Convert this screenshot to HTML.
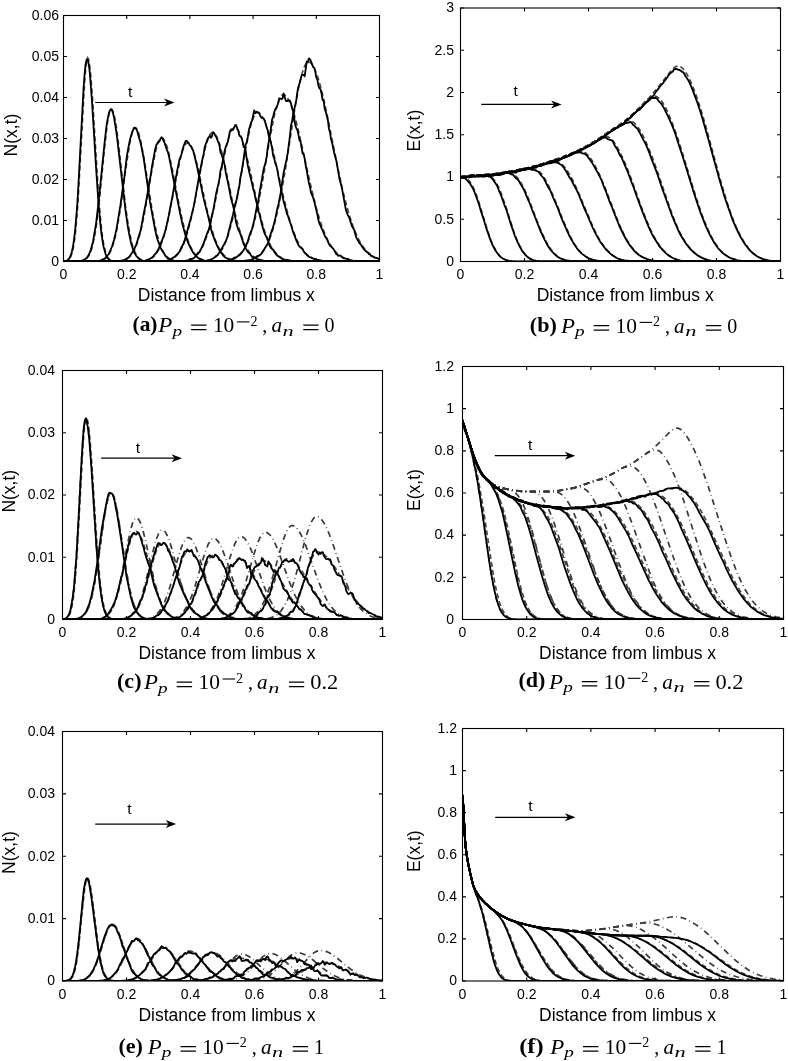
<!DOCTYPE html><html><head><meta charset="utf-8"><style>html,body{margin:0;padding:0;background:#fff;}body{width:788px;height:1061px;overflow:hidden;position:relative}svg{position:absolute;left:0;top:0;filter:grayscale(1)}.s{font-family:"Liberation Sans",sans-serif}.r{font-family:"Liberation Serif",serif}</style></head><body>
<svg width="788" height="1061" viewBox="0 0 788 1061">
<rect width="788" height="1061" fill="#fff"/>
<clipPath id="cpa"><rect x="63.5" y="15.5" width="316" height="246"/></clipPath><g clip-path="url(#cpa)">
<polyline points="63.5,261.4 65.6,261.2 67.7,260.4 68.8,259.6 69.8,258.4 70.9,256.5 71.9,253.6 73,249.5 74,243.8 75.1,236.1 77.2,213.5 78.2,198.3 84.6,82.8 85.6,69.4 86.7,60.9 87.7,57.9 88.8,60.1 89.8,66.4 90.9,76.6 93,105.6 98.3,191.6 100.4,217.8 101.4,228.1 102.5,236.5 103.5,243.1 104.6,248.3 105.6,252.2 106.7,255.1 107.7,257.2 108.8,258.7 109.8,259.7 110.9,260.4 113,261.1 115.1,261.4 119.3,261.5 379.5,261.5" fill="none" stroke="#444" stroke-width="1.6" stroke-dasharray="5 3"/>
<polyline points="63.5,261.5 79.3,261.3 82.5,260.8 84.6,260 86.7,258.5 88.8,255.8 90.9,251.2 91.9,248.1 94,239.4 95.1,233.7 97.2,219.5 99.3,201.5 104.6,147.9 106.7,128.9 107.7,121.2 108.8,115.3 109.8,111.2 110.9,109.2 112,109.3 113,111.2 114.1,114.6 115.1,119.6 116.2,125.9 118.3,141.7 125.6,206.8 127.8,221.9 129.9,234.1 132,243.4 133,247 135.1,252.5 136.2,254.5 138.3,257.5 139.3,258.5 141.4,259.9 143.6,260.7 145.7,261.1 148.8,261.4 154.1,261.5 379.5,261.5" fill="none" stroke="#444" stroke-width="1.6" stroke-dasharray="5 3"/>
<polyline points="63.5,261.5 91.9,261.5 96.2,261.3 99.3,261 102.5,260.1 104.6,259.1 105.6,258.3 107.7,256.1 109.8,252.9 112,248.1 114.1,241.5 116.2,232.8 117.2,227.7 120.4,208.8 126.7,162.8 129.9,142.6 132,133.2 133,130.1 134.1,128.2 135.1,127.6 136.2,128.1 137.2,129.5 138.3,131.9 139.3,135.2 141.4,144.1 144.6,162 152,209.1 155.1,225.8 157.2,234.9 159.4,242.2 160.4,245.3 162.5,250.3 163.6,252.2 165.7,255.4 167.8,257.5 169.9,259 172,260 175.2,260.8 179.4,261.3 184.6,261.5 379.5,261.5" fill="none" stroke="#444" stroke-width="1.6" stroke-dasharray="5 3"/>
<polyline points="63.5,261.5 108.8,261.5 118.3,261.2 122.5,260.6 125.6,259.5 128.8,257.6 130.9,255.5 133,252.5 134.1,250.6 136.2,245.9 138.3,239.9 140.4,232.3 142.5,223.2 144.6,212.6 152,169.8 155.1,153.5 157.2,145.3 158.3,142.2 159.4,139.9 160.4,138.5 161.5,137.9 162.5,138.1 163.6,139.1 164.6,140.7 166.7,145.8 168.8,153.2 172,167.5 178.3,200.7 181.5,216.2 184.6,229.4 186.7,236.7 189.9,245.4 193.1,251.6 194.1,253.1 196.2,255.7 198.3,257.5 200.4,258.8 203.6,260.1 206.8,260.8 211,261.3 217.3,261.5 379.5,261.5" fill="none" stroke="#444" stroke-width="1.6" stroke-dasharray="5 3"/>
<polyline points="63.5,261.5 128.8,261.5 140.4,261.2 144.6,260.8 148.8,259.6 152,257.9 154.1,256.1 156.2,253.6 157.2,252.1 159.4,248.3 162.5,240.5 164.6,233.7 166.7,225.7 168.8,216.5 177.3,173.2 180.4,158.6 182.5,151 184.6,145.7 185.7,144.1 186.7,143.1 187.8,142.8 188.8,143.2 189.9,144.2 191,145.7 193.1,150.4 195.2,156.9 198.3,169.5 205.7,204.1 208.9,217.9 212,229.9 214.1,236.6 217.3,244.7 220.4,250.7 223.6,254.8 225.7,256.8 227.8,258.2 231,259.7 234.1,260.5 238.4,261.1 244.7,261.4 379.5,261.5" fill="none" stroke="#444" stroke-width="1.6" stroke-dasharray="5 3"/>
<polyline points="63.5,261.5 147.8,261.5 159.4,261.3 164.6,261 168.8,260.2 172,259 175.2,256.9 178.3,253.7 181.5,248.7 184.6,241.5 186.7,235.3 188.8,227.9 192,214.6 195.2,199.1 202.5,160.3 205.7,146.5 207.8,139.5 208.9,136.8 209.9,134.8 211,133.4 212,132.6 213.1,132.6 214.1,133.1 215.2,134.2 216.2,135.8 217.3,137.9 219.4,143.5 221.5,150.9 224.7,164.3 234.1,209.2 237.3,222.2 240.5,233.1 243.6,241.7 246.8,248.3 249.9,253 252,255.3 254.2,257.1 257.3,258.9 260.5,260 264.7,260.9 271,261.3 284.7,261.5 379.5,261.5" fill="none" stroke="#444" stroke-width="1.6" stroke-dasharray="5 3"/>
<polyline points="63.5,261.5 178.3,261.4 184.6,260.9 188.8,260.1 192,258.9 195.2,256.9 198.3,253.8 201.5,249.1 204.6,242.4 207.8,233.3 211,221.6 214.1,207.6 223.6,158.6 226.8,144.4 228.9,136.9 231,131.4 232,129.5 233.1,128.3 234.1,127.7 235.2,127.7 236.2,128.2 237.3,129.1 238.4,130.6 239.4,132.5 241.5,137.5 243.6,144.1 247.8,160.7 258.4,208.1 261.5,220.4 264.7,230.9 267.8,239.4 271,246.1 274.2,251.1 277.3,254.7 280.5,257.2 282.6,258.4 284.7,259.3 288.9,260.4 295.2,261.2 308.9,261.5 379.5,261.5" fill="none" stroke="#444" stroke-width="1.6" stroke-dasharray="5 3"/>
<polyline points="63.5,261.5 198.3,261.4 204.6,261 208.9,260.2 211,259.6 213.1,258.7 216.2,256.7 218.3,254.7 220.4,252.1 223.6,246.8 226.8,239.4 229.9,229.4 233.1,216.9 236.2,201.8 245.7,149.2 247.8,138.4 249.9,129 252,121.4 254.2,115.9 255.2,114.1 256.3,112.9 257.3,112.4 258.4,112.4 259.4,112.9 260.5,113.8 261.5,115.1 263.6,118.9 266.8,127.2 268.9,134.2 272.1,146.5 283.6,197.5 288.9,217.6 292.1,227.6 294.2,233.4 296.3,238.5 299.4,244.7 301.6,248.1 303.7,250.9 306.8,254.3 308.9,255.9 311,257.3 313.1,258.3 316.3,259.5 321.6,260.6 326.8,261.1 335.3,261.4 379.5,261.5" fill="none" stroke="#444" stroke-width="1.6" stroke-dasharray="5 3"/>
<polyline points="63.5,261.5 204.6,261.5 219.4,261.4 225.7,260.9 231,260 233.1,259.3 235.2,258.4 238.4,256.3 240.5,254.4 242.6,251.8 245.7,246.7 247.8,242.2 249.9,236.7 253.1,226.4 256.3,213.7 259.4,198.4 262.6,181.1 270,137.9 274.2,116.3 276.3,107.7 277.3,104.1 279.4,98.5 280.5,96.6 281.5,95.3 282.6,94.7 283.6,94.7 284.7,95 285.8,95.8 286.8,96.9 288.9,100.3 291,105 294.2,114.4 296.3,121.9 299.4,134.7 311,186.8 316.3,207.9 319.5,218.8 322.6,228.2 325.8,236 328.9,242.4 332.1,247.5 334.2,250.2 336.3,252.5 338.4,254.4 340.5,255.9 342.6,257.2 345.8,258.6 351.1,260.1 357.4,260.9 365.8,261.4 379.5,261.5" fill="none" stroke="#444" stroke-width="1.6" stroke-dasharray="5 3"/>
<polyline points="63.5,261.5 221.5,261.5 238.4,261.3 245.7,260.8 251,259.9 255.2,258.3 257.3,257.1 259.4,255.4 261.5,253.4 263.6,250.7 265.7,247.4 267.8,243.3 270,238.3 272.1,232.3 275.2,221.3 278.4,207.7 282.6,185.7 285.8,166.8 294.2,112.7 298.4,88.9 301.6,75 303.7,68.3 304.7,65.8 305.8,64 306.8,62.7 307.9,62.1 308.9,62.1 310,62.5 311,63.3 312.1,64.5 314.2,67.9 315.2,70.2 317.4,75.7 320.5,86.2 322.6,94.5 325.8,108.4 337.4,165.6 342.6,189.7 347.9,210.3 350,217.3 353.2,226.7 355.3,232 358.4,238.9 361.6,244.5 364.8,248.9 367.9,252.3 371.1,255 375.3,257.4 379.5,259" fill="none" stroke="#444" stroke-width="1.6" stroke-dasharray="5 3"/>
<polyline points="63.5,261.3 65.6,261 66.7,260.7 67.7,260 68.8,259 69.8,257.4 70.9,254.9 71.9,251.4 73,246.4 74,239.6 75.1,230.6 77.2,205.7 78.2,188.8 83.5,89.1 84.6,73.8 85.6,64.2 86.7,59.4 87.7,59.7 88.8,64.5 89.8,72.9 91.9,100 96.2,169.8 98.3,200.6 100.4,224.4 101.4,233.5 102.5,240.7 103.5,246.5 105.6,254.1 106.7,256.4 107.7,258.2 108.8,259.3 109.8,260.1 112,261 113,261.2 119.3,261.5 379.5,261.5" fill="none" stroke="#000" stroke-width="1.8" stroke-linejoin="round"/>
<polyline points="63.5,261.5 78.2,261.3 81.4,260.9 83.5,260.2 85.6,258.8 87.7,256.5 88.8,254.8 90.9,249.6 93,241.7 96.2,222.6 99.3,195.1 104.6,142.5 106.7,124.2 108.8,113.3 109.8,110.6 110.9,109.3 112,110.4 113,113 114.1,117.9 116.2,131.2 117.2,138.7 125.6,211.2 127.8,226.3 128.8,232.2 130.9,242.2 132,246.2 133,249.2 135.1,253.9 136.2,255.7 138.3,258.3 139.3,259.1 142.5,260.6 143.6,260.8 146.7,261.3 150.9,261.5 379.5,261.5" fill="none" stroke="#000" stroke-width="1.8" stroke-linejoin="round"/>
<polyline points="63.5,261.5 90.9,261.5 96.2,261.2 99.3,260.9 101.4,260.1 104.6,258.5 105.6,257.6 108.8,254 112,246.5 113,243.3 114.1,239.7 116.2,230.4 117.2,224.9 120.4,205.4 124.6,175.1 126.7,157.4 127.8,150.6 129.9,139.8 132,132.7 134.1,127.6 135.1,128 136.2,128.8 137.2,131 138.3,135.3 140.4,142 141.4,146.8 143.6,157.8 149.9,201.4 155.1,229.9 157.2,238.7 160.4,247.4 161.5,249.5 165.7,256.2 166.7,257.3 168.8,258.9 170.9,259.9 174.1,260.8 178.3,261.3 182.5,261.4 379.5,261.5" fill="none" stroke="#000" stroke-width="1.8" stroke-linejoin="round"/>
<polyline points="63.5,261.5 109.8,261.5 116.2,261.3 120.4,260.8 122.5,260.5 124.6,259.8 127.8,258.1 129.9,256 133,251.3 135.1,247.2 136.2,244.8 140.4,230.9 141.4,226.6 143.6,214.1 145.7,204 150.9,174 152,166.5 155.1,149.6 156.2,145.2 158.3,141.7 159.4,141.5 160.4,138.9 161.5,137.3 162.5,138.1 163.6,141.1 164.6,142.9 166.7,149.3 167.8,151.8 168.8,155.4 180.4,214.8 182.5,224.4 185.7,236.1 187.8,242 191,248.8 193.1,252.6 196.2,256.2 198.3,258.1 199.4,258.8 200.4,259.4 204.6,260.6 212,261.4 379.5,261.5" fill="none" stroke="#000" stroke-width="1.8" stroke-linejoin="round"/>
<polyline points="63.5,261.5 138.3,261.4 141.4,260.9 145.7,260.7 148.8,259.4 149.9,258.7 152,257.6 153,256.7 154.1,255.1 155.1,254.2 156.2,252.9 158.3,249.6 163.6,236.4 165.7,229.6 168.8,215.4 169.9,209.1 172,198.8 175.2,180.3 176.2,176.3 177.3,170.1 179.4,159.8 181.5,154.2 182.5,149.6 183.6,146.2 185.7,140.9 186.7,140.9 188.8,143.4 189.9,145.3 191,146.3 193.1,150.6 194.1,154 197.3,167.7 203.6,198.4 208.9,219.3 211,229 212,232.6 215.2,241.2 217.3,246.1 219.4,250.3 220.4,251.9 223.6,255.9 224.7,257 225.7,257.7 229.9,259.6 231,259.5 235.2,260.8 237.3,261.1 245.7,261.4 379.5,261.5" fill="none" stroke="#000" stroke-width="1.8" stroke-linejoin="round"/>
<polyline points="63.5,261.5 158.3,261.4 166.7,260.6 168.8,260.1 173,257.9 174.1,256.9 175.2,256.4 179.4,251.9 181.5,247.2 183.6,243.5 184.6,240.4 191,217.6 194.1,204.9 199.4,174.3 202.5,158.8 203.6,154.5 204.6,147.5 205.7,144.1 207.8,138.6 209.9,135.7 211,137.7 212,136.1 213.1,132.2 214.1,132.9 215.2,135.5 216.2,136.9 219.4,145 220.4,152.1 221.5,154.4 222.6,157.7 224.7,165.3 225.7,172.2 228.9,187.1 231,198.5 233.1,205.9 234.1,210.6 236.2,223.1 238.4,230.1 239.4,231.6 240.5,234.3 243.6,243.9 245.7,248.1 247.8,251.9 248.9,252.9 249.9,253.5 252,256.9 254.2,257.4 255.2,258.2 257.3,259.1 263.6,260.9 265.7,261.2 270,261.4 379.5,261.5" fill="none" stroke="#000" stroke-width="1.8" stroke-linejoin="round"/>
<polyline points="63.5,261.5 170.9,261.5 181.5,261.3 186.7,260.8 189.9,259.7 191,258.9 193.1,258.7 194.1,257.9 195.2,257 197.3,253.9 198.3,252.7 199.4,252.1 200.4,250.3 203.6,243.4 206.8,234.2 208.9,229.3 209.9,225.3 212,214.7 213.1,210.7 214.1,205.6 216.2,193.2 218.3,184.4 219.4,179.1 220.4,171 221.5,167.6 224.7,150.7 225.7,147 227.8,142.2 229.9,131.5 231,129.5 233.1,129.8 235.2,125 236.2,125.2 237.3,128.6 238.4,131.2 239.4,135.7 240.5,136.4 241.5,137.8 242.6,141.6 243.6,147 244.7,147.1 245.7,151.8 247.8,165.6 249.9,174.9 252,183.2 253.1,188.6 254.2,191.9 255.2,197.2 257.3,205.6 258.4,211.3 259.4,214 261.5,222.9 263.6,230.5 264.7,233.7 266.8,237.9 267.8,240.5 270,246.6 271,248 273.1,249.7 275.2,253.2 277.3,255.6 278.4,256.4 279.4,256.8 281.5,258.5 283.6,259.5 285.8,260 286.8,259.9 288.9,260.4 295.2,261.3 306.8,261.5 379.5,261.5" fill="none" stroke="#000" stroke-width="1.8" stroke-linejoin="round"/>
<polyline points="63.5,261.5 200.4,261.4 202.5,261.1 204.6,261.1 211,259.5 214.1,257.9 216.2,255.8 217.3,255.2 219.4,252.5 220.4,250 221.5,249 224.7,243.3 226.8,238.6 227.8,235.5 228.9,230.5 233.1,214.2 235.2,203.9 236.2,201.4 237.3,196.6 238.4,190.4 239.4,185.9 240.5,176.7 241.5,172.6 243.6,159.1 244.7,150.6 245.7,144.7 246.8,141.8 247.8,137 248.9,129.8 249.9,126.6 251,122.4 252,120.8 254.2,110.4 255.2,113.2 256.3,111.7 257.3,112 258.4,112.9 259.4,113.6 260.5,116.4 261.5,117.8 263.6,118.5 264.7,120.3 266.8,128 267.8,130.4 268.9,137 270,139.4 271,142.9 272.1,148.1 273.1,155.6 274.2,158.4 275.2,162.9 276.3,165.6 277.3,169.6 278.4,176.2 280.5,186.9 283.6,201.4 285.8,208.9 286.8,213.5 287.9,215.7 290,222.2 291,224.8 293.1,232.2 294.2,234.5 296.3,240.4 297.3,242.7 298.4,244.9 299.4,246.5 302.6,249 303.7,251.3 304.7,253 305.8,253.7 307.9,256.1 310,257.4 311,257.3 312.1,258.2 313.1,258.7 316.3,259.6 318.4,259.8 319.5,260.3 322.6,260.9 323.7,260.8 324.7,261.1 326.8,261 328.9,261.3 335.3,261.5 379.5,261.5" fill="none" stroke="#000" stroke-width="1.8" stroke-linejoin="round"/>
<polyline points="63.5,261.5 216.2,261.4 227.8,260.8 228.9,260.3 231,259.7 233.1,258.6 234.1,257.8 235.2,257.3 236.2,257.5 239.4,254.8 242.6,251.5 245.7,246.8 246.8,243.6 247.8,241.3 249.9,234.1 251,231.3 252,229.3 254.2,220.4 257.3,204.1 258.4,200.7 259.4,193.3 263.6,169.3 265.7,162 266.8,155.8 267.8,147.2 270,134.6 272.1,119.6 273.1,116.5 274.2,112.4 275.2,109.4 276.3,108.1 277.3,105.7 278.4,102.5 279.4,98.3 280.5,98.6 281.5,99.3 282.6,98.4 283.6,93.5 285.8,100.8 286.8,101.2 287.9,100.3 290,100.6 291,103.5 292.1,108 293.1,111.5 295.2,124.7 296.3,128.1 297.3,129.9 298.4,134.4 299.4,140.1 300.5,141.4 302.6,153.7 303.7,154.4 304.7,158.8 305.8,166.3 306.8,171 308.9,183.1 310,187.2 311,192.6 313.1,197.5 314.2,201.4 317.4,214.5 318.4,220.1 319.5,223.8 320.5,225.6 321.6,228.4 322.6,230.3 324.7,235.8 325.8,237.7 326.8,239 328.9,243.9 330,245.7 333.2,248.6 336.3,254 337.4,254.7 338.4,255.8 339.5,255.5 340.5,255.7 342.6,257.6 343.7,258.3 344.7,258.4 347.9,259.1 350,260.3 354.2,261 356.3,260.8 358.4,261.2 360.5,261.1 362.6,261.5 365.8,261.3 379.5,261.5" fill="none" stroke="#000" stroke-width="1.8" stroke-linejoin="round"/>
<polyline points="63.5,261.5 239.4,261.4 243.6,261 247.8,260.3 249.9,260.6 254.2,258.4 257.3,256 258.4,255.7 260.5,254.6 261.5,253.6 262.6,251.6 263.6,250.3 266.8,245 267.8,243.8 268.9,240.5 270,236 273.1,227.1 275.2,218.9 277.3,208.6 278.4,204.7 280.5,193.9 283.6,172.8 286.8,158.2 287.9,151.8 290,135.3 291,125.4 292.1,121.1 293.1,114.4 296.3,100.1 297.3,92.3 298.4,86.8 299.4,83.9 301.6,75.4 303.7,74.9 304.7,76.2 306.8,61.4 307.9,62.4 308.9,58.3 310,59.5 311,61.3 313.1,67 314.2,67.8 315.2,71.2 316.3,77.5 317.4,79.9 318.4,85.6 319.5,88.4 320.5,89.2 321.6,93.9 322.6,100 323.7,100.8 324.7,108.9 325.8,111.8 327.9,120.2 328.9,128.7 330,132.3 331,139.1 332.1,142.7 334.2,153 336.3,160.4 339.5,178.9 341.6,186.7 342.6,191.8 345.8,209.4 347.9,215.5 349,216.9 352.1,226.5 354.2,229.9 355.3,234.2 356.3,237.6 359.5,243.4 360.5,243.9 361.6,245.9 363.7,249 366.9,252.2 367.9,252.6 369,254.1 370,254.5 371.1,255.8 372.1,256 373.2,256.9 374.2,257.5 375.3,257.9 377.4,258.1 379.5,259.5" fill="none" stroke="#000" stroke-width="1.8" stroke-linejoin="round"/>
</g>
<rect x="63.5" y="15.5" width="316" height="246" fill="none" stroke="#000" stroke-width="1.1"/>
<path d="M63.5 261.5v-3.5M63.5 15.5v3.5M126.7 261.5v-3.5M126.7 15.5v3.5M189.9 261.5v-3.5M189.9 15.5v3.5M253.1 261.5v-3.5M253.1 15.5v3.5M316.3 261.5v-3.5M316.3 15.5v3.5M379.5 261.5v-3.5M379.5 15.5v3.5M63.5 261.5h3.5M379.5 261.5h-3.5M63.5 220.5h3.5M379.5 220.5h-3.5M63.5 179.5h3.5M379.5 179.5h-3.5M63.5 138.5h3.5M379.5 138.5h-3.5M63.5 97.5h3.5M379.5 97.5h-3.5M63.5 56.5h3.5M379.5 56.5h-3.5M63.5 15.5h3.5M379.5 15.5h-3.5" stroke="#000" stroke-width="1.1" fill="none"/>
<text class="s" x="59" y="265.8" font-size="14" text-anchor="end">0</text>
<text class="s" x="59" y="224.8" font-size="14" text-anchor="end">0.01</text>
<text class="s" x="59" y="183.8" font-size="14" text-anchor="end">0.02</text>
<text class="s" x="59" y="142.8" font-size="14" text-anchor="end">0.03</text>
<text class="s" x="59" y="101.8" font-size="14" text-anchor="end">0.04</text>
<text class="s" x="59" y="60.8" font-size="14" text-anchor="end">0.05</text>
<text class="s" x="59" y="19.8" font-size="14" text-anchor="end">0.06</text>
<text class="s" x="63.5" y="279.1" font-size="14" text-anchor="middle">0</text>
<text class="s" x="126.7" y="279.1" font-size="14" text-anchor="middle">0.2</text>
<text class="s" x="189.9" y="279.1" font-size="14" text-anchor="middle">0.4</text>
<text class="s" x="253.1" y="279.1" font-size="14" text-anchor="middle">0.6</text>
<text class="s" x="316.3" y="279.1" font-size="14" text-anchor="middle">0.8</text>
<text class="s" x="379.5" y="279.1" font-size="14" text-anchor="middle">1</text>
<text class="s" x="137.8" y="300.7" font-size="17.5">Distance from limbus x</text>
<text class="s" font-size="17.5" text-anchor="middle" transform="translate(17 135) rotate(-90)">N(x,t)</text>
<path d="M95.2 102.5H170.5" stroke="#000" stroke-width="1.2"/>
<path d="M174.5 102.5L164 98.5L167 102.5L164 106.5Z" fill="#000"/>
<text class="s" x="130.2" y="96.5" font-size="15.5" text-anchor="middle">t</text>
<text class="r" x="132.5" y="331" font-size="22" font-weight="bold" textLength="25" lengthAdjust="spacingAndGlyphs">(a)</text>
<text class="r" x="158.3" y="332.3" font-size="20" font-style="italic" textLength="14" lengthAdjust="spacingAndGlyphs">P</text>
<text class="r" x="172.4" y="335.9" font-size="15.5" font-style="italic" textLength="9.6" lengthAdjust="spacingAndGlyphs">p</text>
<path d="M191.1 325.1H206.5M191.1 329.5H206.5" stroke="#000" stroke-width="1.25"/>
<text class="r" x="212.9" y="332.3" font-size="20" textLength="21.4" lengthAdjust="spacingAndGlyphs">10</text>
<path d="M237 321.9H249.5" stroke="#000" stroke-width="1.1"/>
<text class="r" x="250.4" y="325.6" font-size="14">2</text>
<text class="r" x="262.3" y="332.3" font-size="20">,</text>
<text class="r" x="271.5" y="332.3" font-size="20" font-style="italic" textLength="10.6" lengthAdjust="spacingAndGlyphs">a</text>
<text class="r" x="282.6" y="335.8" font-size="15.5" font-style="italic" textLength="11.2" lengthAdjust="spacingAndGlyphs">n</text>
<path d="M303.3 325.1H318.6M303.3 329.5H318.6" stroke="#000" stroke-width="1.25"/>
<text class="r" x="324.6" y="332.3" font-size="20">0</text>
<clipPath id="cpb"><rect x="460.5" y="8" width="320" height="253.5"/></clipPath><g clip-path="url(#cpb)">
<polyline points="460.5,176.9 463.7,177.3 465.8,178 466.9,178.7 469,180.6 470.1,181.9 472.2,185.3 474.4,189.8 477.6,198.2 488.2,232.5 491.4,241.3 493.6,246.2 496.8,252 500,256 503.2,258.6 505.3,259.6 507.4,260.4 512.8,261.2 519.2,261.5 780.5,261.5" fill="none" stroke="#444" stroke-width="1.6" stroke-dasharray="5 3"/>
<polyline points="460.5,176.7 468,175.8 473.3,175.3 480.8,174.9 485,175 487.2,175.3 489.3,176 491.4,177.2 493.6,179.2 495.7,182 496.8,183.7 498.9,187.9 501,192.9 505.3,204.9 513.8,231.3 517,239.8 520.2,246.8 523.4,252.1 526.6,255.9 529.8,258.4 532,259.5 534.1,260.2 536.2,260.7 539.4,261.2 546.9,261.5 780.5,261.5" fill="none" stroke="#444" stroke-width="1.6" stroke-dasharray="5 3"/>
<polyline points="460.5,176.7 471.2,175.5 491.4,174.2 506.4,172.4 508.5,172.4 510.6,172.8 512.8,173.6 514.9,175.1 517,177.2 519.2,179.9 521.3,183.3 524.5,189.4 528.8,199.2 538.4,224.2 541.6,232 544.8,239 548,245 551.2,249.8 553.3,252.5 555.4,254.6 557.6,256.4 559.7,257.8 561.8,258.8 565,260 568.2,260.7 571.4,261.1 578.9,261.5 780.5,261.5" fill="none" stroke="#444" stroke-width="1.6" stroke-dasharray="5 3"/>
<polyline points="460.5,176.7 470.1,175.6 488.2,174.5 495.7,173.7 511.7,171.1 528.8,167.9 530.9,167.8 533,168 535.2,168.6 536.2,169.1 538.4,170.6 541.6,174 544.8,178.6 548,184.4 553.3,195.9 564,222.2 567.2,229.7 571.4,238.6 574.6,244.2 576.8,247.4 578.9,250.2 581,252.6 583.2,254.6 585.3,256.2 588.5,258 590.6,259 593.8,260 597,260.7 601.3,261.1 615.2,261.5 780.5,261.5" fill="none" stroke="#444" stroke-width="1.6" stroke-dasharray="5 3"/>
<polyline points="460.5,176.7 471.2,175.5 491.4,174.2 501,172.9 514.9,170.5 526.6,168 535.2,165.9 551.2,161.4 554.4,161 556.5,161.3 558.6,162 560.8,163.3 564,166.3 567.2,170.5 571.4,177.6 574.6,183.9 577.8,190.9 589.6,219 593.8,228.7 598.1,237.2 601.3,242.6 604.5,247.1 608.8,251.9 613,255.4 616.2,257.5 618.4,258.6 621.6,259.7 625.8,260.6 631.2,261.2 637.6,261.5 780.5,261.5" fill="none" stroke="#444" stroke-width="1.6" stroke-dasharray="5 3"/>
<polyline points="460.5,176.7 470.1,175.6 487.2,174.5 494.6,173.8 505.3,172.2 520.2,169.4 533,166.5 545.8,162.8 559.7,158.1 576.8,151.5 580,151 582.1,151.2 584.2,152 585.3,152.7 587.4,154.5 589.6,156.9 592.8,161.6 597,169.3 600.2,176.1 604.5,186.3 619.4,224.6 623.7,233.9 626.9,239.9 630.1,245 634.4,250.4 636.5,252.6 638.6,254.4 642.9,257.2 647.2,259.1 651.4,260.3 656.8,261.1 663.2,261.5 780.5,261.5" fill="none" stroke="#444" stroke-width="1.6" stroke-dasharray="5 3"/>
<polyline points="460.5,176.7 470.1,175.6 489.3,174.4 497.8,173.4 518.1,169.9 526.6,168 535.2,165.9 542.6,163.8 552.2,160.7 559.7,158.1 567.2,155.2 574.6,152 582.1,148.4 589.6,144.3 601.3,137.5 604.5,136.5 606.6,136.5 607.7,136.8 608.8,137.2 610.9,138.7 612,139.7 614.1,142.2 616.2,145.4 618.4,149.1 622.6,157.6 625.8,164.9 630.1,175.7 641.8,208.1 646.1,219.3 650.4,229.3 653.6,235.8 656.8,241.5 661,247.6 665.3,252.3 669.6,255.8 672.8,257.8 677,259.6 681.3,260.7 685.6,261.2 696.2,261.5 780.5,261.5" fill="none" stroke="#444" stroke-width="1.6" stroke-dasharray="5 3"/>
<polyline points="460.5,176.7 471.2,175.5 491.4,174.2 497.8,173.4 505.3,172.2 518.1,169.9 529.8,167.3 539.4,164.7 551.2,161 559.7,158.1 567.2,155.2 574.6,152 581,148.9 588.5,144.9 594.9,141.1 612,129.6 623.7,122.2 626.9,120.8 629,120.5 630.1,120.7 632.2,121.4 633.3,122.1 634.4,123 636.5,125.3 639.7,129.8 644,137.6 648.2,147.1 652.5,157.9 656.8,169.7 669.6,207 673.8,218.4 677,226.2 680.2,233.1 684.5,240.7 688.8,246.7 693,251.3 697.3,254.9 699.4,256.3 702.6,258.1 708,260.1 714.4,261.5 780.5,261.5" fill="none" stroke="#444" stroke-width="1.6" stroke-dasharray="5 3"/>
<polyline points="460.5,176.7 470.1,175.6 487.2,174.5 493.6,174 503.2,172.6 518.1,169.9 530.9,167 541.6,164.1 556.5,159.2 568.2,154.8 578.9,150 591.7,143.1 597,139.8 610.9,130.3 619.4,124.8 624.8,120.8 631.2,115.4 636.5,110.5 646.1,101.1 649.3,98.4 651.4,97 652.5,96.5 654.6,96.1 655.7,96.2 656.8,96.6 658.9,98 660,99.1 662.1,101.8 664.2,105.2 666.4,109.2 670.6,118.7 674.9,129.9 679.2,142.5 696.2,197.6 702.6,216.4 706.9,227.2 710.1,234.2 713.3,240.3 717.6,246.8 719.7,249.5 721.8,251.8 726.1,255.3 728.2,256.6 731.4,258.2 736.8,260 741,260.8 746.4,261.5 780.5,261.5" fill="none" stroke="#444" stroke-width="1.6" stroke-dasharray="5 3"/>
<polyline points="460.5,176.7 470.1,175.6 488.2,174.5 495.7,173.7 512.8,170.9 525.6,168.3 539.4,164.7 555.4,159.6 569.3,154.4 580,149.5 589.6,144.3 597,139.8 610.9,130.3 619.4,124.8 623.7,121.7 628,118.2 633.3,113.5 638.6,108.4 649.3,97.5 656.8,88.8 669.6,72.6 672.8,69 674.9,67.2 676,66.6 677,66.2 678.1,66.1 679.2,66.2 680.2,66.5 682.4,68 684.5,70.4 686.6,73.6 688.8,77.5 690.9,82 693,87 696.2,95.5 700.5,108.3 704.8,122.6 719.7,177.4 726.1,199.1 730.4,212 733.6,220.6 736.8,228.2 740,234.8 744.2,242.2 748.5,248.2 751.7,251.8 753.8,253.7 756,255.3 758.1,256.7 761.3,258.3 766.6,260 769.8,260.7 774.1,261.3 776.2,261.5 780.5,261.5" fill="none" stroke="#444" stroke-width="1.6" stroke-dasharray="5 3"/>
<polyline points="460.5,178 462.6,177.5 464.8,178.2 465.8,178.9 470.1,183.7 472.2,187.2 474.4,191.7 478.6,203.1 480.8,210.8 484,220.4 486.1,227.6 490.4,239.9 492.5,245 495.7,251 498.9,255.3 501,257.3 503.2,258.8 505.3,259.8 507.4,260.5 512.8,261.3 519.2,261.5 780.5,261.5" fill="none" stroke="#000" stroke-width="1.8" stroke-linejoin="round"/>
<polyline points="460.5,177.6 461.6,177.5 462.6,176.7 463.7,176.9 464.8,177.7 465.8,177.3 466.9,177.3 468,176.7 469,176.8 470.1,176.2 472.2,176.1 474.4,175.1 475.4,175.9 478.6,176.3 480.8,175.5 481.8,175.9 482.9,175.8 485,176.3 486.1,175.9 487.2,175.8 488.2,176.3 489.3,176.2 490.4,176.9 492.5,179.1 496.8,185.2 497.8,187.5 500,193.2 501,195.2 504.2,204.3 506.4,209.8 510.6,223.4 514.9,236 516,238.7 519.2,245.5 522.4,251.3 525.6,255.2 527.7,257.2 529.8,258.6 532,259.6 534.1,260.3 536.2,260.8 539.4,261.2 546.9,261.5 780.5,261.5" fill="none" stroke="#000" stroke-width="1.8" stroke-linejoin="round"/>
<polyline points="460.5,177.8 461.6,177.8 462.6,177.4 463.7,177.2 465.8,177.4 466.9,177.1 469,176.8 470.1,176.1 472.2,175.4 474.4,176 475.4,176 476.5,175.9 478.6,175.2 479.7,175.7 481.8,176.3 482.9,176.5 484,176.5 486.1,175.6 488.2,175.4 489.3,175.1 490.4,174.5 491.4,174.3 493.6,174.3 494.6,175.1 497.8,173.2 502.1,173.6 503.2,173 504.2,173.5 506.4,172.1 511.7,174.5 512.8,174.5 516,178.2 518.1,179.9 519.2,181.4 520.2,183.5 522.4,186.9 524.5,191 527.7,198.8 529.8,203.5 532,209.5 540.5,231 544.8,240.1 548,246 550.1,249.1 552.2,251.8 556.5,255.9 558.6,257.4 560.8,258.5 565,260.1 570.4,261 577.8,261.5 780.5,261.5" fill="none" stroke="#000" stroke-width="1.8" stroke-linejoin="round"/>
<polyline points="460.5,177.1 464.8,177 465.8,176.7 466.9,177.1 468,177 469,177.4 471.2,176.5 472.2,175.7 473.3,175.6 474.4,175.7 475.4,176.1 477.6,176.2 485,175.5 488.2,176.5 490.4,174.9 492.5,175.5 500,173.9 502.1,174.3 504.2,172.7 506.4,172.3 507.4,172.4 510.6,171.7 511.7,171.7 514.9,172.6 516,172.7 517,171.4 519.2,170 521.3,169.4 523.4,169.4 524.5,169.2 525.6,169.4 528.8,168.7 532,169.8 533,169.7 534.1,169.9 538.4,171.8 539.4,173 541.6,176.1 542.6,176.9 543.7,178.3 545.8,182.3 548,187 550.1,190 553.3,198 557.6,207.6 561.8,218.9 567.2,231.1 569.3,235.7 573.6,243.4 577.8,249.5 580,251.9 582.1,253.9 586.4,257.1 589.6,258.7 592.8,259.8 596,260.5 600.2,261.1 615.2,261.5 780.5,261.5" fill="none" stroke="#000" stroke-width="1.8" stroke-linejoin="round"/>
<polyline points="460.5,177.2 462.6,177.6 464.8,177.1 466.9,177.4 469,176.1 471.2,175.5 472.2,175.4 473.3,176.2 474.4,176.5 475.4,176.6 477.6,175.6 478.6,175.7 480.8,175.1 481.8,175.3 482.9,176.1 484,176.1 485,175.7 487.2,175.6 488.2,175.1 489.3,175.3 490.4,176 492.5,175 494.6,174.7 496.8,174.1 498.9,174.1 501,174 505.3,173.1 506.4,172.6 507.4,172.6 508.5,172.4 509.6,172.5 510.6,172.2 512.8,172.3 513.8,171.9 514.9,171.1 516,170.6 517,170.3 518.1,170.5 520.2,169.6 521.3,170 523.4,170 525.6,169.2 526.6,168.4 527.7,168.1 529.8,168 532,168.4 533,167.3 535.2,167.1 536.2,166.4 539.4,165.8 540.5,165.9 541.6,165.7 542.6,164.5 543.7,163.8 544.8,163.5 545.8,163.6 548,163.2 550.1,163.4 552.2,162.8 553.3,162.2 554.4,162.5 555.4,162.3 556.5,162.4 557.6,162.8 561.8,165.2 564,167.9 566.1,171.2 569.3,177.1 571.4,180 573.6,184.5 576.8,190.4 578.9,195 584.2,208.2 587.4,215.1 589.6,220.5 592.8,227.8 596,234.4 600.2,241.8 605.6,249 609.8,253.2 613,255.7 616.2,257.7 619.4,259.2 621.6,259.8 624.8,260.5 629,261 637.6,261.5 780.5,261.5" fill="none" stroke="#000" stroke-width="1.8" stroke-linejoin="round"/>
<polyline points="460.5,177.7 464.8,177.4 466.9,176.4 469,176.6 472.2,175.7 473.3,176.2 476.5,176.3 477.6,175.8 479.7,175.5 484,176 488.2,174.7 489.3,175.3 490.4,175.5 493.6,175 494.6,174.7 496.8,174.7 498.9,175 500,175 503.2,173.8 504.2,173 505.3,172.9 506.4,172.4 509.6,172.2 510.6,171.7 513.8,172 516,170.8 517,170.5 519.2,170.3 520.2,170.6 521.3,170.2 522.4,169.4 525.6,169.4 526.6,168.9 527.7,168.8 528.8,168.3 530.9,168.2 532,168.6 534.1,166.4 537.3,166.7 538.4,165.9 539.4,165.5 540.5,165.7 543.7,164.2 544.8,163.8 545.8,163.9 546.9,163.2 548,163.1 549,162.5 550.1,161.6 551.2,161.6 552.2,161.3 555.4,160.9 556.5,161.1 557.6,161.1 559.7,159.3 562.9,157.9 564,157.9 567.2,156.6 568.2,155.7 569.3,155.2 570.4,154.9 571.4,154.2 572.5,153.3 574.6,152.7 577.8,152.7 580,152.4 581,152.4 582.1,153.3 583.2,153.6 584.2,153.5 585.3,154.4 586.4,155 591.7,162.1 598.1,173.3 601.3,179.7 604.5,188.3 605.6,190.5 609.8,202.2 612,207.2 615.2,215.7 619.4,226 623.7,235 626.9,240.8 630.1,245.7 635.4,252.1 638.6,254.7 642.9,257.4 647.2,259.2 651.4,260.3 656.8,261.1 663.2,261.5 780.5,261.5" fill="none" stroke="#000" stroke-width="1.8" stroke-linejoin="round"/>
<polyline points="460.5,177 461.6,177.3 462.6,177.2 463.7,176.7 465.8,176.7 466.9,177 468,177 469,177.4 472.2,176.8 476.5,175.6 478.6,176.6 481.8,176.4 482.9,175.7 484,175.7 485,176.5 487.2,175.9 488.2,175.1 489.3,174.8 490.4,174.9 492.5,176 493.6,175.5 494.6,174.6 495.7,174.4 497.8,174.2 500,173.6 503.2,173.5 504.2,173.1 505.3,173.2 508.5,172.2 511.7,171.7 512.8,171.8 513.8,171.3 514.9,171.6 516,171.7 517,171.2 518.1,170.3 520.2,170.3 522.4,169.1 524.5,169.3 526.6,168.8 528.8,168.7 533,167.1 534.1,167.1 536.2,166.8 538.4,165.5 539.4,165.2 540.5,164.6 541.6,164.8 542.6,164.8 543.7,164.4 545.8,164.1 548,162.5 549,162.4 550.1,162.7 552.2,160.8 553.3,160.5 554.4,160.6 555.4,160.5 556.5,159.8 559.7,159.6 560.8,159 561.8,158.1 564,157.2 565,156.7 566.1,156.6 568.2,155.8 571.4,153.5 572.5,153.2 573.6,153.3 575.7,152.5 576.8,152.4 577.8,151.6 580,150.5 582.1,148.8 585.3,148 586.4,147.2 587.4,146.9 588.5,145.9 589.6,145.8 591.7,143.5 593.8,142.9 598.1,139.9 600.2,139.5 601.3,138.7 603.4,137.5 605.6,137.5 607.7,139 609.8,139.8 610.9,140 612,140.6 613,141.6 614.1,144.2 615.2,146.2 617.3,149.4 619.4,154.2 620.5,156.1 621.6,157.5 623.7,162.7 626.9,169.8 631.2,181.3 633.3,186.5 636.5,195.8 642.9,212.9 648.2,225.9 651.4,232.8 653.6,237.1 658.9,245.6 663.2,250.7 666.4,253.7 668.5,255.4 672.8,258 677,259.7 681.3,260.8 685.6,261.2 695.2,261.5 780.5,261.5" fill="none" stroke="#000" stroke-width="1.8" stroke-linejoin="round"/>
<polyline points="460.5,177.6 461.6,177.1 465.8,177.1 469,176.1 470.1,176 473.3,176 474.4,176.4 475.4,176.2 476.5,176.3 478.6,176.3 481.8,175.3 482.9,175.5 486.1,174.8 488.2,175.4 496.8,174.4 497.8,174.6 498.9,174.2 500,174.2 501,173.6 503.2,173.2 504.2,173.2 506.4,172.6 509.6,172.3 512.8,171.7 516,171.9 518.1,171.3 520.2,170.1 525.6,169.8 526.6,169.5 527.7,168.8 529.8,168.6 534.1,166.6 536.2,166.5 537.3,166.1 538.4,165.5 539.4,165.1 540.5,165.5 542.6,165 543.7,164.5 545.8,163.2 548,162.7 551.2,161.5 552.2,160.9 553.3,160.9 557.6,159.6 559.7,159.7 561.8,159 562.9,158 566.1,156.4 571.4,154.6 573.6,153.1 575.7,151.9 576.8,151.4 577.8,151.5 580,150 582.1,149.2 583.2,148.5 588.5,146 590.6,144.9 593.8,142.9 594.9,142.6 596,142.1 600.2,139 601.3,137.9 606.6,134.7 609.8,132 613,130.4 614.1,129.7 615.2,128.6 619.4,126 621.6,125.5 622.6,125 625.8,122.8 626.9,123 628,122.6 629,122.6 630.1,122 631.2,122.2 633.3,125.1 634.4,125.7 635.4,127 637.6,128.9 639.7,132.7 642.9,139.1 645,142.7 647.2,147.6 649.3,152.6 651.4,158.6 656.8,172.4 662.1,188.2 671.7,214.8 676,225.2 678.1,230 681.3,236.3 685.6,243.1 689.8,248.5 693,251.7 695.2,253.6 698.4,255.9 702.6,258.2 708,260.2 714.4,261.5 780.5,261.5" fill="none" stroke="#000" stroke-width="1.8" stroke-linejoin="round"/>
<polyline points="460.5,177.6 463.7,177 465.8,177.2 468,176.8 470.1,176.1 472.2,175.9 476.5,176 477.6,175.8 481.8,176.1 485,175.3 488.2,175.2 490.4,175.5 492.5,174.8 494.6,174.9 496.8,174.3 497.8,174.2 498.9,174.4 500,174.3 503.2,173.5 504.2,173.1 505.3,173 506.4,172.7 511.7,171.9 512.8,172 516,171 518.1,170.6 520.2,170.8 522.4,170 524.5,169.7 525.6,169.1 528.8,168.2 530.9,167.9 532,168 534.1,167 536.2,167 537.3,166.5 540.5,165.7 541.6,165.1 546.9,163.6 551.2,162.1 556.5,160.8 557.6,160.2 559.7,159.4 561.8,158.1 564,157.3 565,156.5 566.1,156 568.2,155.7 571.4,154.8 573.6,153.5 577.8,151.5 578.9,151.3 582.1,149.7 584.2,148.4 588.5,146.5 589.6,145.8 590.6,144.6 591.7,143.9 593.8,143.6 597,140.8 598.1,140.3 599.2,139.5 601.3,137.6 603.4,136.3 604.5,136.2 608.8,132.7 609.8,132.4 613,129.5 614.1,128.8 617.3,127.6 619.4,125.9 623.7,123.4 625.8,121.1 628,119.3 629,118.7 637.6,110.4 638.6,109.9 639.7,109.1 641.8,106.6 645,103.4 648.2,101.3 651.4,98 652.5,97.9 653.6,98 655.7,97.9 656.8,98.5 658.9,101.4 661,103.3 664.2,108.5 669.6,119.6 672.8,127.2 674.9,132.6 679.2,146.1 683.4,158.8 693,190.1 700.5,212.7 705.8,226.1 710.1,235.4 714.4,243 717.6,247.5 719.7,250 721.8,252.2 726.1,255.6 729.3,257.5 731.4,258.4 736.8,260.1 741,260.9 746.4,261.5 780.5,261.5" fill="none" stroke="#000" stroke-width="1.8" stroke-linejoin="round"/>
<polyline points="460.5,177 461.6,177.1 462.6,176.8 463.7,177 464.8,176.8 466.9,176.8 469,176.4 472.2,176.5 475.4,176 481.8,175.7 482.9,175.8 486.1,175.5 488.2,175.6 491.4,175 492.5,175.1 494.6,174.8 495.7,174.9 497.8,174.3 501,173.8 502.1,173.8 504.2,173 506.4,173 509.6,172.2 512.8,171.8 516,170.9 517,170.9 518.1,171.1 520.2,170.2 521.3,170.1 524.5,169.2 527.7,169 543.7,164.4 544.8,164.4 550.1,162.4 552.2,161.4 554.4,161 557.6,159.6 558.6,159.6 559.7,159.4 561.8,158.2 562.9,158.2 564,157.8 567.2,156.1 568.2,156.1 570.4,155.3 573.6,153.8 575.7,152.1 576.8,152 578.9,151.2 580,150.4 583.2,148.9 587.4,146.4 591.7,144.6 593.8,142.9 594.9,142.3 596,141.4 598.1,140.5 601.3,138 602.4,137.7 603.4,137 605.6,135 607.7,133.8 610.9,131.6 612,130.5 614.1,129.1 617.3,128 618.4,127.1 619.4,126.5 621.6,124.2 623.7,124.1 625.8,121.1 626.9,120 628,119.2 631.2,117.2 633.3,114.4 634.4,113.7 637.6,110.7 638.6,110 639.7,109.6 648.2,100.1 649.3,99.4 650.4,98.1 652.5,96.2 653.6,95.6 655.7,92 658.9,88.1 660,86.5 663.2,82.8 667.4,77.2 668.5,75.3 669.6,74 670.6,72.9 672.8,71.4 673.8,69.8 674.9,69.1 676,68.8 680.2,70.3 682.4,72 683.4,72.3 685.6,76.2 688.8,81.1 692,88.4 697.3,102.4 701.6,115.5 709,141.4 711.2,149.8 719.7,180.5 725,198.3 732.5,219.6 735.7,227.1 740,236 744.2,243.1 748.5,248.8 750.6,251.2 752.8,253.2 757,256.3 759.2,257.5 762.4,258.8 767.7,260.4 775.2,261.4 780.5,261.5" fill="none" stroke="#000" stroke-width="1.8" stroke-linejoin="round"/>
</g>
<rect x="460.5" y="8" width="320" height="253.5" fill="none" stroke="#000" stroke-width="1.1"/>
<path d="M460.5 261.5v-3.5M460.5 8v3.5M524.5 261.5v-3.5M524.5 8v3.5M588.5 261.5v-3.5M588.5 8v3.5M652.5 261.5v-3.5M652.5 8v3.5M716.5 261.5v-3.5M716.5 8v3.5M780.5 261.5v-3.5M780.5 8v3.5M460.5 261.5h3.5M780.5 261.5h-3.5M460.5 219.25h3.5M780.5 219.25h-3.5M460.5 177h3.5M780.5 177h-3.5M460.5 134.75h3.5M780.5 134.75h-3.5M460.5 92.5h3.5M780.5 92.5h-3.5M460.5 50.25h3.5M780.5 50.25h-3.5M460.5 8h3.5M780.5 8h-3.5" stroke="#000" stroke-width="1.1" fill="none"/>
<text class="s" x="454" y="265.8" font-size="14" text-anchor="end">0</text>
<text class="s" x="454" y="223.55" font-size="14" text-anchor="end">0.5</text>
<text class="s" x="454" y="181.3" font-size="14" text-anchor="end">1</text>
<text class="s" x="454" y="139.05" font-size="14" text-anchor="end">1.5</text>
<text class="s" x="454" y="96.8" font-size="14" text-anchor="end">2</text>
<text class="s" x="454" y="54.55" font-size="14" text-anchor="end">2.5</text>
<text class="s" x="454" y="12.3" font-size="14" text-anchor="end">3</text>
<text class="s" x="460.5" y="279.1" font-size="14" text-anchor="middle">0</text>
<text class="s" x="524.5" y="279.1" font-size="14" text-anchor="middle">0.2</text>
<text class="s" x="588.5" y="279.1" font-size="14" text-anchor="middle">0.4</text>
<text class="s" x="652.5" y="279.1" font-size="14" text-anchor="middle">0.6</text>
<text class="s" x="716.5" y="279.1" font-size="14" text-anchor="middle">0.8</text>
<text class="s" x="780.5" y="279.1" font-size="14" text-anchor="middle">1</text>
<text class="s" x="536.7" y="300.6" font-size="17.5">Distance from limbus x</text>
<text class="s" font-size="17.5" text-anchor="middle" transform="translate(419.8 130.6) rotate(-90)">E(x,t)</text>
<path d="M481.2 104.4H557.6" stroke="#000" stroke-width="1.2"/>
<path d="M561.6 104.4L551.1 100.4L554.1 104.4L551.1 108.4Z" fill="#000"/>
<text class="s" x="515.7" y="95.5" font-size="15.5" text-anchor="middle">t</text>
<text class="r" x="529.8" y="331.5" font-size="22" font-weight="bold" textLength="27" lengthAdjust="spacingAndGlyphs">(b)</text>
<text class="r" x="560.9" y="332.8" font-size="20" font-style="italic" textLength="14" lengthAdjust="spacingAndGlyphs">P</text>
<text class="r" x="575" y="336.4" font-size="15.5" font-style="italic" textLength="9.6" lengthAdjust="spacingAndGlyphs">p</text>
<path d="M593.7 325.6H609.1M593.7 330H609.1" stroke="#000" stroke-width="1.25"/>
<text class="r" x="615.5" y="332.8" font-size="20" textLength="21.4" lengthAdjust="spacingAndGlyphs">10</text>
<path d="M639.6 322.4H652.1" stroke="#000" stroke-width="1.1"/>
<text class="r" x="653" y="326.1" font-size="14">2</text>
<text class="r" x="664.9" y="332.8" font-size="20">,</text>
<text class="r" x="674.1" y="332.8" font-size="20" font-style="italic" textLength="10.6" lengthAdjust="spacingAndGlyphs">a</text>
<text class="r" x="685.2" y="336.3" font-size="15.5" font-style="italic" textLength="11.2" lengthAdjust="spacingAndGlyphs">n</text>
<path d="M705.9 325.6H721.2M705.9 330H721.2" stroke="#000" stroke-width="1.25"/>
<text class="r" x="727.2" y="332.8" font-size="20">0</text>
<clipPath id="cpc"><rect x="62.5" y="370.5" width="320" height="249"/></clipPath><g clip-path="url(#cpc)">
<polyline points="62.5,619.3 64.6,618.9 65.7,618.4 66.8,617.7 67.8,616.5 68.9,614.6 70,611.8 71,607.7 72.1,602 73.2,594.3 74.2,584.2 75.3,571.6 76.4,556.3 81.7,458.1 82.8,441.3 83.8,428.5 84.9,420.8 86,418.7 87,421.4 88.1,427.9 89.2,438 91.3,466.1 96.6,548.8 98.8,574.5 99.8,584.7 102,599.9 103,605.2 104.1,609.3 105.2,612.4 106.2,614.6 107.3,616.2 108.4,617.3 109.4,618.1 110.5,618.6 112.6,619.2 119,619.5 382.5,619.5" fill="none" stroke="#3a3a3a" stroke-width="1.7" stroke-dasharray="6 3.5 0.7 3.5"/>
<polyline points="62.5,619.5 71,619.4 75.3,619.2 78.5,618.6 80.6,617.8 82.8,616.4 84.9,614.3 87,610.9 89.2,605.9 91.3,599 92.4,594.7 95.6,578.3 97.7,564.7 104.1,519 106.2,506.4 107.3,501.5 108.4,497.5 109.4,494.8 110.5,493.4 111.6,493.2 112.6,494.3 113.7,496.5 114.8,499.8 116.9,509.3 119,521.8 126.5,571.8 129.7,589.1 131.8,598 134,604.8 135,607.6 137.2,611.8 138.2,613.4 140.4,615.8 141.4,616.7 143.6,617.9 145.7,618.6 148.9,619.2 157.4,619.5 382.5,619.5" fill="none" stroke="#3a3a3a" stroke-width="1.7" stroke-dasharray="6 3.5 0.7 3.5"/>
<polyline points="62.5,619.5 91.3,619.5 98.8,619 102,618.4 105.2,617.1 107.3,615.5 109.4,613.2 111.6,609.8 113.7,605.2 115.8,599.2 116.9,595.6 119,587.2 121.2,577.3 127.6,543.6 130.8,529.1 132.9,522.2 134,519.9 135,518.4 136.1,517.8 137.2,518 138.2,518.9 139.3,520.5 140.4,522.7 142.5,528.7 145.7,541.2 152.1,570.9 155.3,584.6 158.5,595.9 160.6,601.9 162.8,606.7 163.8,608.7 166,612 167,613.3 169.2,615.3 171.3,616.8 173.4,617.8 176.6,618.7 179.8,619.1 189.4,619.5 382.5,619.5" fill="none" stroke="#3a3a3a" stroke-width="1.7" stroke-dasharray="6 3.5 0.7 3.5"/>
<polyline points="62.5,619.5 109.4,619.5 119,619.3 123.3,618.8 126.5,618 129.7,616.5 131.8,614.8 134,612.5 136.1,609.4 138.2,605.3 140.4,600 142.5,593.7 144.6,586.2 153.2,550.6 156.4,539.2 158.5,533.8 159.6,531.9 160.6,530.6 161.7,530 162.8,530 163.8,530.5 164.9,531.6 166,533.1 167,535.1 169.2,540.3 172.4,550.6 178.8,575 182,586.4 185.2,596.1 187.3,601.5 190.5,607.9 193.7,612.4 196.9,615.3 200.1,617.2 203.3,618.3 206.5,618.9 210.8,619.3 217.2,619.5 382.5,619.5" fill="none" stroke="#3a3a3a" stroke-width="1.7" stroke-dasharray="6 3.5 0.7 3.5"/>
<polyline points="62.5,619.5 129.7,619.5 140.4,619.3 145.7,618.9 148.9,618.3 152.1,617.2 154.2,616.1 157.4,613.5 159.6,610.9 162.8,605.7 164.9,601.2 167,595.7 170.2,585.9 177.7,559.1 180.9,548.8 183,543.4 185.2,539.6 186.2,538.4 187.3,537.7 188.4,537.5 189.4,537.8 190.5,538.4 191.6,539.5 193.7,542.7 195.8,547.3 199,556.2 208.6,586.9 211.8,595.7 215,602.8 218.2,608.4 221.4,612.4 224.6,615.2 227.8,617 231,618.1 234.2,618.8 238.5,619.2 244.9,619.4 382.5,619.5" fill="none" stroke="#3a3a3a" stroke-width="1.7" stroke-dasharray="6 3.5 0.7 3.5"/>
<polyline points="62.5,619.5 162.8,619.4 168.1,619.1 171.3,618.7 174.5,617.9 177.7,616.5 180.9,614.3 184.1,610.8 187.3,605.8 189.4,601.4 191.6,596.3 194.8,587 203.3,557.9 206.5,548.4 208.6,543.5 210.8,540.1 211.8,539.1 212.9,538.5 214,538.4 215,538.7 216.1,539.3 218.2,541.6 220.4,545.1 222.5,549.8 225.7,558.3 235.3,586.9 238.5,595.1 241.7,602 244.9,607.4 248.1,611.5 251.3,614.4 254.5,616.4 257.7,617.7 260.9,618.5 265.2,619 271.6,619.4 382.5,619.5" fill="none" stroke="#3a3a3a" stroke-width="1.7" stroke-dasharray="6 3.5 0.7 3.5"/>
<polyline points="62.5,619.5 187.3,619.4 192.6,619.2 196.9,618.7 200.1,618 203.3,616.7 206.5,614.7 209.7,611.5 212.9,606.9 216.1,600.7 218.2,595.5 221.4,586.3 230,557.6 233.2,548 235.3,542.9 237.4,539.1 238.5,537.9 239.6,537 240.6,536.6 241.7,536.6 242.8,537 243.8,537.7 244.9,538.7 247,541.5 249.2,545.5 251.3,550.3 253.4,555.9 264.1,586.4 267.3,594.3 270.5,601 273.7,606.4 276.9,610.5 280.1,613.6 283.3,615.7 286.5,617.2 290.8,618.3 295,619 300.4,619.3 313.2,619.5 382.5,619.5" fill="none" stroke="#3a3a3a" stroke-width="1.7" stroke-dasharray="6 3.5 0.7 3.5"/>
<polyline points="62.5,619.5 208.6,619.4 215,619.2 219.3,618.7 222.5,618 225.7,616.9 228.9,615 232.1,612.1 235.3,607.8 238.5,602 241.7,594.4 244.9,585.1 254.5,552.4 257.7,542.9 259.8,538 262,534.5 263,533.3 264.1,532.5 265.2,532.2 266.2,532.3 267.3,532.7 269.4,534.3 271.6,537 273.7,540.6 275.8,545.1 278,550.3 289.7,582.7 292.9,590.6 295,595.3 298.2,601.5 301.4,606.4 304.6,610.3 307.8,613.2 311,615.3 315.3,617.2 319.6,618.3 324.9,619 337.7,619.5 382.5,619.5" fill="none" stroke="#3a3a3a" stroke-width="1.7" stroke-dasharray="6 3.5 0.7 3.5"/>
<polyline points="62.5,619.5 232.1,619.4 238.5,619.3 242.8,618.9 247,618.2 250.2,617.1 252.4,616.1 254.5,614.7 257.7,611.7 260.9,607.4 264.1,601.5 267.3,593.8 270.5,584.4 273.7,573.6 281.2,546.7 284.4,536.9 286.5,531.8 288.6,528 289.7,526.8 290.8,525.9 291.8,525.5 292.9,525.6 294,525.9 296.1,527.3 298.2,529.8 301.4,535.3 303.6,540 305.7,545.4 317.4,578.6 322.8,591.9 326,598.4 328.1,602.1 331.3,606.8 334.5,610.5 337.7,613.3 340.9,615.3 345.2,617.1 349.4,618.2 353.7,618.8 360.1,619.3 382.5,619.5" fill="none" stroke="#3a3a3a" stroke-width="1.7" stroke-dasharray="6 3.5 0.7 3.5"/>
<polyline points="62.5,619.5 253.4,619.5 259.8,619.3 265.2,618.9 269.4,618.2 272.6,617.1 274.8,616.1 276.9,614.7 279,612.9 281.2,610.6 284.4,605.9 287.6,599.6 290.8,591.5 294,581.6 297.2,570.2 304.6,541.6 306.8,534.2 308.9,527.8 311,522.6 313.2,518.9 314.2,517.7 315.3,516.9 316.4,516.6 317.4,516.7 318.5,517 319.6,517.7 321.7,519.7 323.8,522.7 327,528.9 329.2,534 332.4,542.6 342,571 346.2,582.6 349.4,590.3 351.6,594.8 355.8,602.5 358,605.6 361.2,609.4 364.4,612.3 367.6,614.5 370.8,616.2 374,617.3 378.2,618.3 382.5,618.9" fill="none" stroke="#3a3a3a" stroke-width="1.7" stroke-dasharray="6 3.5 0.7 3.5"/>
<polyline points="62.5,619.4 64.6,619.1 66.8,618.2 67.8,617.3 68.9,615.8 70,613.6 71,610.3 72.1,605.6 73.2,599.1 74.2,590.4 75.3,579.3 77.4,549.2 82.8,450.1 83.8,434.7 84.9,423.8 86,418.3 87,418.3 88.1,422.6 89.2,430.6 90.2,442 92.4,471.9 95.6,523.3 97.7,554.2 99.8,578.6 100.9,588.1 102,595.8 103,602.1 104.1,606.9 105.2,610.6 106.2,613.3 107.3,615.3 108.4,616.7 109.4,617.7 110.5,618.3 112.6,619 115.8,619.4 120.1,619.5 382.5,619.5" fill="none" stroke="#444" stroke-width="1.6" stroke-dasharray="5 3"/>
<polyline points="62.5,619.5 74.2,619.3 77.4,618.8 80.6,617.7 82.8,616.4 84.9,614.1 87,610.7 89.2,605.6 91.3,598.6 92.4,594.2 95.6,577.6 97.7,563.9 104.1,518.1 106.2,505.6 107.3,500.7 108.4,496.9 109.4,494.3 110.5,492.9 111.6,492.9 112.6,494.1 113.7,496.4 114.8,499.8 116.9,509.5 119,522.1 126.5,572.3 128.6,584.2 130.8,594.1 132.9,601.9 134,605 136.1,610 137.2,611.9 139.3,614.8 141.4,616.7 143.6,617.9 145.7,618.6 148.9,619.2 157.4,619.5 382.5,619.5" fill="none" stroke="#444" stroke-width="1.6" stroke-dasharray="5 3"/>
<polyline points="62.5,619.5 90.2,619.5 98.8,619 102,618.4 105.2,617.1 107.3,615.6 109.4,613.4 111.6,610.3 113.7,606 115.8,600.4 118,593.5 121.2,580.7 127.6,551.5 130.8,539.4 132.9,534.1 134,532.4 135,531.5 136.1,531.3 137.2,531.7 138.2,532.6 139.3,534 140.4,535.9 142.5,540.9 145.7,550.9 155.3,586.1 158.5,595.9 160.6,601.3 163.8,607.7 167,612.2 170.2,615.2 172.4,616.6 174.5,617.6 177.7,618.5 180.9,619 185.2,619.3 191.6,619.5 382.5,619.5" fill="none" stroke="#444" stroke-width="1.6" stroke-dasharray="5 3"/>
<polyline points="62.5,619.5 109.4,619.5 119,619.3 123.3,618.9 126.5,618.2 129.7,616.9 131.8,615.6 134,613.6 136.1,611 138.2,607.5 140.4,603 142.5,597.6 144.6,591.2 153.2,560.5 156.4,550.6 158.5,545.8 159.6,544.1 160.6,543 161.7,542.3 162.8,542.3 163.8,542.6 164.9,543.4 166,544.5 168.1,547.7 170.2,552.2 173.4,560.7 183,589.7 186.2,597.8 189.4,604.4 192.6,609.4 195.8,613.1 199,615.6 201.2,616.8 203.3,617.6 206.5,618.5 209.7,619 214,619.3 220.4,619.5 382.5,619.5" fill="none" stroke="#444" stroke-width="1.6" stroke-dasharray="5 3"/>
<polyline points="62.5,619.5 142.5,619.4 147.8,619 151,618.5 154.2,617.5 156.4,616.5 159.6,614.1 161.7,611.8 163.8,608.8 166,605 168.1,600.4 171.3,592 178.8,568.7 182,559.8 184.1,555.2 186.2,552.1 187.3,551.2 188.4,550.7 189.4,550.7 190.5,551 192.6,552.5 194.8,555.2 196.9,558.8 199,563.2 201.2,568.2 210.8,592.5 214,599.3 217.2,605 220.4,609.6 223.6,612.9 226.8,615.3 228.9,616.5 231,617.4 234.2,618.3 238.5,618.9 242.8,619.3 249.2,619.4 382.5,619.5" fill="none" stroke="#444" stroke-width="1.6" stroke-dasharray="5 3"/>
<polyline points="62.5,619.5 163.8,619.4 172.4,618.9 175.6,618.3 178.8,617.3 182,615.5 185.2,612.8 188.4,608.7 190.5,605.1 192.6,600.8 195.8,593.1 203.3,572 206.5,564 208.6,559.7 210.8,556.7 211.8,555.8 212.9,555.2 214,555.1 215,555.2 216.1,555.6 218.2,557.2 220.4,559.6 222.5,562.9 226.8,571.2 234.2,588.1 237.4,594.9 240.6,600.9 243.8,605.9 247,609.9 250.2,613 253.4,615.2 256.6,616.8 259.8,617.8 264.1,618.7 268.4,619.1 274.8,619.4 382.5,619.5" fill="none" stroke="#444" stroke-width="1.6" stroke-dasharray="5 3"/>
<polyline points="62.5,619.5 186.2,619.5 195.8,619 199,618.6 202.2,617.7 205.4,616.3 208.6,614.1 211.8,610.8 215,606.3 217.2,602.4 220.4,595.6 228.9,573.8 232.1,566.6 234.2,562.9 236.4,560.3 237.4,559.4 238.5,559 239.6,558.8 241.7,559.3 243.8,560.6 246,562.7 249.2,567 253.4,574.6 264.1,595.7 267.3,601.2 270.5,605.8 273.7,609.6 276.9,612.5 280.1,614.8 283.3,616.4 286.5,617.5 290.8,618.5 295,619 301.4,619.3 315.3,619.5 382.5,619.5" fill="none" stroke="#444" stroke-width="1.6" stroke-dasharray="5 3"/>
<polyline points="62.5,619.5 208.6,619.5 218.2,619.1 221.4,618.8 224.6,618.1 227.8,616.9 231,615 234.2,612.2 237.4,608.1 239.6,604.7 242.8,598.4 246,591 252.4,575 255.6,568.1 257.7,564.5 259.8,562 260.9,561.2 262,560.8 263,560.7 265.2,561.1 267.3,562.1 269.4,563.8 271.6,566.1 273.7,568.8 276.9,573.6 288.6,593.9 291.8,599 295,603.4 298.2,607.2 301.4,610.4 304.6,612.9 308.9,615.4 312.1,616.7 316.4,617.9 321.7,618.7 327,619.2 340.9,619.5 382.5,619.5" fill="none" stroke="#444" stroke-width="1.6" stroke-dasharray="5 3"/>
<polyline points="62.5,619.5 235.3,619.5 244.9,619.2 248.1,618.8 251.3,618.1 253.4,617.4 255.6,616.3 258.8,613.9 262,610.2 264.1,606.9 266.2,602.8 269.4,595.5 278,572.2 281.2,564.9 283.3,561.4 284.4,560.2 285.4,559.3 286.5,558.9 287.6,558.8 289.7,559.2 291.8,560.2 294,561.7 297.2,564.8 299.3,567.4 302.5,571.9 315.3,592.8 320.6,600.5 323.8,604.4 327,607.8 330.2,610.6 333.4,612.9 336.6,614.7 340.9,616.4 345.2,617.6 349.4,618.4 354.8,619 361.2,619.3 382.5,619.5" fill="none" stroke="#444" stroke-width="1.6" stroke-dasharray="5 3"/>
<polyline points="62.5,619.5 267.3,619.5 276.9,619.2 282.2,618.4 284.4,617.7 286.5,616.7 289.7,614.2 291.8,611.7 292.9,610.2 295,606.6 297.2,602 300.4,593.5 307.8,569.2 311,560.1 313.2,555.6 314.2,553.9 315.3,552.8 316.4,552.1 317.4,551.9 318.5,552 320.6,552.6 323.8,554.4 327,557.1 330.2,560.8 335.6,568.5 346.2,586 351.6,594.2 356.9,601.3 361.2,606 365.4,609.8 367.6,611.3 370.8,613.3 376.1,615.7 379.3,616.8 382.5,617.6" fill="none" stroke="#444" stroke-width="1.6" stroke-dasharray="5 3"/>
<polyline points="62.5,619.4 64.6,619 66.8,617.7 67.8,616.5 68.9,614.5 70,611.6 71,607.6 73.2,594.1 74.2,584.4 76.4,556.7 78.5,519.7 81.7,457.3 82.8,440.3 83.8,427.3 84.9,419.9 86,418.6 87,422.3 88.1,429.3 89.2,438.9 91.3,466 96.6,549.4 98.8,575.1 99.8,584.8 100.9,593.4 102,600.1 103,605.4 104.1,609.4 105.2,612.4 106.2,614.6 108.4,617.4 109.4,618.1 111.6,619 113.7,619.3 121.2,619.5 382.5,619.5" fill="none" stroke="#000" stroke-width="1.8" stroke-linejoin="round"/>
<polyline points="62.5,619.5 72.1,619.4 74.2,619.2 78.5,618.3 80.6,617.3 81.7,616.7 83.8,614.7 86,611.8 89.2,604.1 91.3,596.5 94.5,580.9 97.7,560 102,527.4 103,522 104.1,515.3 107.3,498.7 108.4,494.4 109.4,492.6 110.5,493.2 111.6,493.3 112.6,494.6 113.7,497.2 114.8,501.9 115.8,508.2 116.9,512.7 121.2,539.8 126.5,576.4 130.8,597.1 132.9,604.3 134,607.1 135,609.3 138.2,614.2 140.4,616.3 142.5,617.6 145.7,618.8 150,619.4 156.4,619.5 382.5,619.5" fill="none" stroke="#000" stroke-width="1.8" stroke-linejoin="round"/>
<polyline points="62.5,619.5 90.2,619.5 95.6,619.3 100.9,618.6 102,618.3 104.1,617.4 106.2,616.1 108.4,613.5 110.5,610.3 111.6,608.2 112.6,606.5 114.8,601.8 115.8,598.8 118,591.3 120.1,581.9 122.2,574.2 127.6,548.5 128.6,544.1 130.8,537.3 131.8,534.9 134,532.6 135,534 136.1,534.6 137.2,533.3 138.2,532.6 139.3,534.5 140.4,537.1 142.5,544.6 143.6,547.2 144.6,551.9 147.8,562.3 150,567.8 154.2,585.7 161.7,605.4 163.8,609.8 164.9,610.8 166,611.3 167,612.7 169.2,615 171.3,616.4 173.4,617.6 180.9,619.1 188.4,619.5 382.5,619.5" fill="none" stroke="#000" stroke-width="1.8" stroke-linejoin="round"/>
<polyline points="62.5,619.5 112.6,619.5 116.9,619.4 122.2,619 124.4,618.6 127.6,617.5 130.8,615.9 131.8,615.1 132.9,613.4 134,612.4 136.1,611.1 137.2,608.5 139.3,604.2 140.4,601.2 142.5,596.7 145.7,585.1 146.8,582.1 148.9,571.7 150,567.5 152.1,561.8 153.2,557.5 156.4,547.6 157.4,544.8 158.5,543 159.6,543.5 160.6,544.9 161.7,545.1 162.8,543.2 163.8,543 164.9,543.6 167,546.5 168.1,550.7 169.2,552 170.2,554.2 171.3,556.7 172.4,560.5 173.4,562.9 174.5,566 176.6,573.3 177.7,577.8 179.8,584.6 180.9,586.6 182,589.6 184.1,594.3 186.2,598.6 187.3,600.3 188.4,603.9 190.5,607.6 192.6,610.5 193.7,611 194.8,612.7 195.8,613.6 198,614.8 200.1,616.6 203.3,618.4 205.4,618.5 209.7,619.2 218.2,619.5 382.5,619.5" fill="none" stroke="#000" stroke-width="1.8" stroke-linejoin="round"/>
<polyline points="62.5,619.5 140.4,619.5 146.8,619 147.8,619.1 151,618.6 155.3,616.8 156.4,615.6 158.5,614.8 160.6,612.4 162.8,609.4 163.8,608.5 166,603.9 167,602.4 168.1,599.9 173.4,585.3 175.6,578 177.7,572.8 178.8,569.1 179.8,566.5 182,556.7 183,555.8 184.1,552.2 185.2,551.2 186.2,551.8 187.3,549.3 188.4,550.9 189.4,551.5 190.5,550.6 191.6,549.9 192.6,552.5 193.7,556.1 194.8,556.5 195.8,557.3 198,560.4 200.1,567 203.3,573.6 204.4,577.9 206.5,583.8 209.7,591.7 210.8,594.8 214,602 215,603.2 216.1,603.9 217.2,605.5 218.2,608 219.3,609.6 220.4,610.4 221.4,610.9 223.6,613.4 224.6,613.7 230,617.1 233.2,617.7 234.2,618.4 236.4,618.8 237.4,618.8 238.5,619 239.6,618.9 241.7,619.3 243.8,619.2 249.2,619.5 382.5,619.5" fill="none" stroke="#000" stroke-width="1.8" stroke-linejoin="round"/>
<polyline points="62.5,619.5 157.4,619.5 163.8,619.4 168.1,619.5 171.3,619.1 174.5,618.1 176.6,618.1 177.7,618.3 180.9,616.3 182,615 184.1,613.1 185.2,611.7 186.2,610.8 189.4,605 190.5,604.3 191.6,603 192.6,600.5 193.7,596.6 195.8,591.7 198,583.9 199,581.7 200.1,580.2 201.2,578.3 202.2,576.2 203.3,573.5 205.4,563.2 206.5,560.7 207.6,557 208.6,556.4 209.7,555.1 210.8,556.5 211.8,556.8 212.9,557.5 214,556.9 215,554.6 217.2,556 219.3,560.2 220.4,560.1 221.4,561.5 223.6,566.1 224.6,567.5 225.7,570 227.8,578.4 228.9,579.9 230,580.4 231,581.9 232.1,585.7 235.3,594.1 236.4,594.3 237.4,596.8 238.5,598.6 239.6,599.3 240.6,601.9 241.7,603.2 242.8,606 243.8,606.1 246,610.3 248.1,612.6 249.2,612.4 250.2,612.7 251.3,612.8 252.4,614.7 253.4,615.2 254.5,616.2 256.6,617.3 258.8,617.8 260.9,617.9 262,618.4 263,618.7 267.3,619.3 269.4,619 273.7,619.4 283.3,619.5 382.5,619.5" fill="none" stroke="#000" stroke-width="1.8" stroke-linejoin="round"/>
<polyline points="62.5,619.5 184.1,619.5 191.6,619.3 193.7,619.1 198,619.1 200.1,618.7 203.3,617.2 204.4,616.2 206.5,615.2 208.6,613.5 209.7,612.5 211.8,609.7 212.9,607.6 214,606.3 215,605.7 216.1,602.9 217.2,601.1 219.3,596.7 221.4,590.6 222.5,589 223.6,585.5 224.6,583.6 225.7,580 226.8,577.8 228.9,571.7 230,566 231,564.6 232.1,566.4 233.2,566.2 234.2,563.7 235.3,563 236.4,561.3 237.4,560.7 238.5,558.4 239.6,558.2 241.7,560.2 242.8,559.5 243.8,560.4 244.9,560.7 246,563.7 247,568.1 248.1,566.4 249.2,566 250.2,569.5 251.3,574.8 252.4,574.6 253.4,577.5 255.6,580.3 256.6,581.4 258.8,586.6 259.8,588.2 262,592.8 264.1,596.9 266.2,599.9 267.3,600.6 270.5,606.9 271.6,608.7 273.7,610.9 275.8,611.8 276.9,612 278,612.6 281.2,615 282.2,615.7 283.3,616 284.4,616.8 286.5,617.4 288.6,617.7 290.8,618.7 292.9,618.8 294,619.1 297.2,619.1 303.6,619.5 382.5,619.5" fill="none" stroke="#000" stroke-width="1.8" stroke-linejoin="round"/>
<polyline points="62.5,619.5 205.4,619.5 209.7,619.3 214,619.5 216.1,619 219.3,619.1 221.4,618.5 223.6,618.6 225.7,617.5 226.8,617.7 227.8,616.7 228.9,616.1 231,614.2 233.2,613.4 235.3,611.3 236.4,608.6 238.5,604.8 239.6,602.1 240.6,600.9 242.8,596.9 244.9,591 246,589.2 247,586.3 248.1,584.6 249.2,584 252.4,571.1 253.4,569.9 254.5,567.4 255.6,566.8 257.7,565.2 258.8,565.4 259.8,563.5 260.9,562.5 262,558 263,559.2 264.1,561.2 265.2,565.3 266.2,565.3 267.3,566.5 268.4,561.5 269.4,563.5 270.5,564.2 271.6,568.4 272.6,569.7 273.7,572 274.8,571 276.9,573.1 279,576.3 280.1,579.5 281.2,581.4 283.3,588.3 285.4,590.7 286.5,591.3 288.6,595.1 289.7,598.2 290.8,599.3 292.9,602.8 294,601.9 295,602.8 296.1,605 297.2,605.7 299.3,609.3 300.4,609.1 301.4,610.2 303.6,613 304.6,614.1 305.7,614 306.8,614.6 308.9,614.8 311,616.2 312.1,616.6 313.2,617.6 314.2,618.1 316.4,618.6 317.4,618.4 322.8,619 323.8,618.8 327,619.4 382.5,619.5" fill="none" stroke="#000" stroke-width="1.8" stroke-linejoin="round"/>
<polyline points="62.5,619.5 233.2,619.5 239.6,619.4 243.8,619.1 249.2,618.3 251.3,618.6 252.4,618.4 254.5,617.2 255.6,616.1 256.6,615.4 257.7,613.7 258.8,612.8 259.8,611.4 262,609.7 263,608.3 264.1,605.7 265.2,604.5 266.2,600.3 267.3,597.3 268.4,595.1 269.4,595.3 270.5,591.6 272.6,581.6 274.8,577.2 275.8,572.4 276.9,571.5 278,570.8 279,567.7 280.1,567.5 281.2,565.1 282.2,561.8 283.3,562 284.4,560.3 286.5,560.1 288.6,561.8 290.8,561 291.8,561.2 292.9,559 294,560.4 295,562.8 296.1,563 297.2,563.9 298.2,566.1 299.3,569.5 301.4,573.6 302.5,574.6 303.6,577.2 304.6,576.8 305.7,579.2 306.8,578.3 307.8,582.3 310,585.6 311,585.6 312.1,589.8 313.2,591.9 317.4,596.8 319.6,600.4 320.6,603.8 321.7,605.1 322.8,606 323.8,605.7 324.9,604.5 326,607 327,608.6 329.2,610.2 330.2,611.5 332.4,611.5 334.5,612.4 336.6,614.9 338.8,615.6 340.9,615.2 343,617.1 344.1,617.7 345.2,617.5 347.3,617.4 348.4,618.2 349.4,618.4 350.5,618.9 352.6,619.2 353.7,619 355.8,619.2 362.2,619.1 364.4,619.5 382.5,619.5" fill="none" stroke="#000" stroke-width="1.8" stroke-linejoin="round"/>
<polyline points="62.5,619.5 271.6,619.5 278,619 279,618.5 281.2,618 283.3,617.8 285.4,616.3 288.6,614.7 289.7,612.8 290.8,611.7 291.8,611.8 292.9,611.6 296.1,605.1 298.2,598.2 299.3,593.7 300.4,592 302.5,585.2 304.6,579.6 305.7,576.2 306.8,574.1 307.8,568.1 310,562.6 311,558.7 312.1,556 313.2,551.5 314.2,551.1 315.3,549 317.4,553 318.5,554.6 319.6,552.7 320.6,553.8 321.7,552.4 322.8,552.2 323.8,555.7 326,559.1 327,559.2 328.1,558.6 329.2,559.6 330.2,559.3 331.3,563.8 332.4,565.3 333.4,565.8 334.5,570 335.6,571.6 336.6,573.8 337.7,575.2 340.9,575.9 342,577.1 343,582.2 345.2,586.1 346.2,590.7 347.3,592.8 348.4,594.1 350.5,593 351.6,593 352.6,593.8 354.8,599.7 356.9,603.7 358,603.8 359,604.3 361.2,606.5 362.2,608.3 363.3,608.9 364.4,608.8 365.4,610 366.5,610.7 368.6,613 369.7,612.8 374,614.7 375,615.5 376.1,616.6 378.2,617 379.3,616.6 382.5,618.7" fill="none" stroke="#000" stroke-width="1.8" stroke-linejoin="round"/>
</g>
<rect x="62.5" y="370.5" width="320" height="249" fill="none" stroke="#000" stroke-width="1.1"/>
<path d="M62.5 619.5v-3.5M62.5 370.5v3.5M126.5 619.5v-3.5M126.5 370.5v3.5M190.5 619.5v-3.5M190.5 370.5v3.5M254.5 619.5v-3.5M254.5 370.5v3.5M318.5 619.5v-3.5M318.5 370.5v3.5M382.5 619.5v-3.5M382.5 370.5v3.5M62.5 619.5h3.5M382.5 619.5h-3.5M62.5 557.25h3.5M382.5 557.25h-3.5M62.5 495h3.5M382.5 495h-3.5M62.5 432.75h3.5M382.5 432.75h-3.5M62.5 370.5h3.5M382.5 370.5h-3.5" stroke="#000" stroke-width="1.1" fill="none"/>
<text class="s" x="55" y="623.8" font-size="14" text-anchor="end">0</text>
<text class="s" x="55" y="561.55" font-size="14" text-anchor="end">0.01</text>
<text class="s" x="55" y="499.3" font-size="14" text-anchor="end">0.02</text>
<text class="s" x="55" y="437.05" font-size="14" text-anchor="end">0.03</text>
<text class="s" x="55" y="374.8" font-size="14" text-anchor="end">0.04</text>
<text class="s" x="62.5" y="637.1" font-size="14" text-anchor="middle">0</text>
<text class="s" x="126.5" y="637.1" font-size="14" text-anchor="middle">0.2</text>
<text class="s" x="190.5" y="637.1" font-size="14" text-anchor="middle">0.4</text>
<text class="s" x="254.5" y="637.1" font-size="14" text-anchor="middle">0.6</text>
<text class="s" x="318.5" y="637.1" font-size="14" text-anchor="middle">0.8</text>
<text class="s" x="382.5" y="637.1" font-size="14" text-anchor="middle">1</text>
<text class="s" x="138.4" y="659" font-size="17.5">Distance from limbus x</text>
<text class="s" font-size="17.5" text-anchor="middle" transform="translate(15.2 491.2) rotate(-90)">N(x,t)</text>
<path d="M101.2 458.2H178" stroke="#000" stroke-width="1.2"/>
<path d="M182 458.2L171.5 454.2L174.5 458.2L171.5 462.2Z" fill="#000"/>
<text class="s" x="138" y="452.6" font-size="15.5" text-anchor="middle">t</text>
<text class="r" x="117" y="688.1" font-size="22" font-weight="bold" textLength="24.5" lengthAdjust="spacingAndGlyphs">(c)</text>
<text class="r" x="143.9" y="689.4" font-size="20" font-style="italic" textLength="14" lengthAdjust="spacingAndGlyphs">P</text>
<text class="r" x="158" y="693" font-size="15.5" font-style="italic" textLength="9.6" lengthAdjust="spacingAndGlyphs">p</text>
<path d="M176.7 682.2H192.1M176.7 686.6H192.1" stroke="#000" stroke-width="1.25"/>
<text class="r" x="198.5" y="689.4" font-size="20" textLength="21.4" lengthAdjust="spacingAndGlyphs">10</text>
<path d="M222.6 679H235.1" stroke="#000" stroke-width="1.1"/>
<text class="r" x="236" y="682.7" font-size="14">2</text>
<text class="r" x="247.9" y="689.4" font-size="20">,</text>
<text class="r" x="257.1" y="689.4" font-size="20" font-style="italic" textLength="10.6" lengthAdjust="spacingAndGlyphs">a</text>
<text class="r" x="268.2" y="692.9" font-size="15.5" font-style="italic" textLength="11.2" lengthAdjust="spacingAndGlyphs">n</text>
<path d="M288.9 682.2H304.2M288.9 686.6H304.2" stroke="#000" stroke-width="1.25"/>
<text class="r" x="310.2" y="689.4" font-size="20" textLength="28" lengthAdjust="spacingAndGlyphs">0.2</text>
<clipPath id="cpd"><rect x="462.5" y="366.5" width="321" height="253"/></clipPath><g clip-path="url(#cpd)">
<polyline points="462.5,421.2 466.8,434.8 470,446.1 473.2,459.9 476.4,475.8 480.7,501.9 490.3,568.7 492.5,581.1 494.6,591.6 496.7,600.1 497.8,603.5 499.9,609.1 501,611.2 503.2,614.5 504.2,615.6 506.4,617.3 508.5,618.3 510.6,618.9 516,619.5 617.6,619.5 621.9,619.2 626.2,619.5 783.5,619.5" fill="none" stroke="#3a3a3a" stroke-width="1.7" stroke-dasharray="6 3.5 0.7 3.5"/>
<polyline points="462.5,421.1 474.3,457.7 478.6,468 480.7,472.1 481.8,473.8 485,477.8 491.4,485 493.5,487.8 495.7,491.3 496.7,493.4 498.9,498.6 502.1,508.6 505.3,521.1 516,571.6 519.2,585.1 521.4,592.8 524.6,602.1 527.8,608.8 528.8,610.5 531,613.3 532,614.5 534.2,616.2 536.3,617.4 539.5,618.5 542.8,619.1 548.1,619.5 617.6,619.5 621.9,619.2 626.2,619.5 783.5,619.5" fill="none" stroke="#3a3a3a" stroke-width="1.7" stroke-dasharray="6 3.5 0.7 3.5"/>
<polyline points="462.5,421.1 474.3,457.7 478.6,468 480.7,472.1 481.8,473.8 483.9,476.5 487.1,479.9 490.3,482.7 492.5,484.1 495.7,485.7 498.9,487 502.1,488.1 509.6,489.9 511.7,490.7 513.9,491.8 516,493.4 518.1,495.7 521.4,500.7 523.5,505.1 525.6,510.4 529.9,523.4 533.1,534.8 542.8,571.7 546,582.8 549.2,592.5 552.4,600.5 554.5,604.8 556.7,608.3 559.9,612.4 562,614.3 564.1,615.9 567.4,617.4 571.6,618.7 574.9,619.2 580.2,619.5 617.6,619.5 621.9,619.2 626.2,619.5 783.5,619.5" fill="none" stroke="#3a3a3a" stroke-width="1.7" stroke-dasharray="6 3.5 0.7 3.5"/>
<polyline points="462.5,421.1 473.2,454.6 476.4,463.1 478.6,468 480.7,472.1 481.8,473.8 483.9,476.5 487.1,479.9 490.3,482.7 493.5,484.7 497.8,486.6 502.1,488.1 509.6,489.6 517.1,490.9 522.4,491.4 531,491.7 533.1,492 535.3,492.5 537.4,493.5 539.5,495 541.7,497.1 543.8,500 546,503.6 548.1,507.9 550.2,512.8 553.5,521.1 558.8,537.1 570.6,575.2 573.8,584.5 577,592.5 580.2,599.3 582.3,603.1 584.5,606.4 586.6,609.2 588.8,611.4 590.9,613.3 593,614.8 597.3,617 601.6,618.4 605.9,619.2 611.2,619.5 616.6,619.5 621.9,619.2 626.2,619.5 783.5,619.5" fill="none" stroke="#3a3a3a" stroke-width="1.7" stroke-dasharray="6 3.5 0.7 3.5"/>
<polyline points="462.5,421.1 473.2,454.6 475.3,460.6 477.5,465.6 479.6,470.2 481.8,473.8 486,478.9 490.3,482.7 492.5,484.1 494.6,485.2 497.8,486.6 501,487.8 507.4,489.2 516,490.7 524.6,491.5 551.3,491.6 554.5,491.7 556.7,492.1 558.8,492.8 560.9,493.9 563.1,495.7 565.2,498.1 567.4,501 570.6,506.6 573.8,513.2 577,520.7 582.3,534.9 596.2,574.9 599.5,583.2 602.7,590.6 605.9,597.1 608,600.8 610.2,604.1 612.3,606.9 614.4,609.3 616.6,611.4 618.7,612.9 625.1,616.4 628.4,617.8 632.6,618.8 638,619.2 647.6,619.5 675.4,619.4 783.5,619.5" fill="none" stroke="#3a3a3a" stroke-width="1.7" stroke-dasharray="6 3.5 0.7 3.5"/>
<polyline points="462.5,421.1 474.3,457.7 478.6,468 480.7,472.1 481.8,473.8 483.9,476.5 488.2,480.9 490.3,482.7 492.5,484.1 497.8,486.6 503.2,488.3 513.9,490.4 521.4,491.3 526.7,491.5 552.4,491.4 559.9,490.5 575.9,487.6 579.1,487.3 581.3,487.5 583.4,488.2 585.5,489.5 587.7,491.4 590.9,495.4 594.1,500.5 597.3,506.7 600.5,513.8 607,530.1 616.6,557 620.9,568.3 626.2,582.1 630.5,591.6 634.8,599.2 639,605.2 641.2,607.7 644.4,610.8 649.8,614.7 653,616.4 657.2,617.8 662.6,618.7 669,619.1 687.2,619.5 783.5,619.5" fill="none" stroke="#3a3a3a" stroke-width="1.7" stroke-dasharray="6 3.5 0.7 3.5"/>
<polyline points="462.5,421.1 474.3,457.7 477.5,465.6 479.6,470.2 480.7,472.1 482.8,475.2 487.1,479.9 489.2,481.8 491.4,483.4 493.5,484.7 496.7,486.2 501,487.8 504.2,488.6 512.8,490.2 520.3,491.2 525.6,491.5 550.2,491.5 554.5,491.2 558.8,490.7 572.7,488.1 579.1,486.3 594.1,481.1 598.4,479.9 601.6,479.3 604.8,479.3 607,479.8 609.1,480.8 611.2,482.4 614.4,486.1 617.6,490.7 620.9,496.3 624.1,503 628.4,513.7 632.6,525 649.8,572.9 653,580.9 657.2,590.2 661.5,597.8 663.7,601.1 666.9,605.3 671.1,609.7 673.3,611.5 676.5,613.7 680.8,615.9 685.1,617.3 690.4,618.4 697.9,619.1 714,619.5 783.5,619.5" fill="none" stroke="#3a3a3a" stroke-width="1.7" stroke-dasharray="6 3.5 0.7 3.5"/>
<polyline points="462.5,421.1 474.3,457.7 477.5,465.6 480.7,472.1 481.8,473.8 485,477.7 488.2,480.9 490.3,482.7 492.5,484.1 495.7,485.7 498.9,487 502.1,488.1 513.9,490.4 519.2,491.1 523.5,491.5 550.2,491.5 554.5,491.2 559.9,490.5 571.6,488.4 575.9,487.3 592,481.8 602.7,478.4 605.9,477.1 610.2,475.1 615.5,472.3 621.9,468.3 624.1,467.4 627.3,466.7 630.5,466.4 632.6,466.7 634.8,467.7 635.8,468.5 638,470.4 641.2,474.5 644.4,479.8 647.6,486.1 651.9,496.1 657.2,510.1 674.4,560.2 678.6,571.8 681.9,579.8 686.1,589.2 690.4,597 694.7,603.3 699,608.2 703.2,611.9 705.4,613.3 708.6,615.1 714,617.1 717.2,617.8 721.4,618.5 727.9,619.1 737.5,619.4 783.5,619.5" fill="none" stroke="#3a3a3a" stroke-width="1.7" stroke-dasharray="6 3.5 0.7 3.5"/>
<polyline points="462.5,421.1 474.3,457.7 478.6,468 480.7,472.1 481.8,473.8 485,477.7 488.2,480.9 491.4,483.4 493.5,484.7 497.8,486.6 502.1,488.1 508.5,489.4 514.9,490.6 520.3,491.2 524.6,491.5 551.3,491.5 555.6,491.1 560.9,490.4 571.6,488.4 574.9,487.6 580.2,486 592,481.8 601.6,478.7 608,476.2 615.5,472.2 621.9,468.3 628.4,465.5 631.6,463.7 635.8,461 646.5,453.4 650.8,451 653,450.2 655.1,449.8 657.2,450.1 659.4,451.1 660.5,451.9 662.6,454.1 665.8,458.5 670.1,466.1 674.4,475.4 678.6,486.2 682.9,498.3 699,548.4 703.2,561.1 706.5,569.9 710.7,580.5 715,589.6 718.2,595.5 722.5,602 726.8,607.1 728.9,609.2 732.1,611.7 734.3,613.2 737.5,614.9 742.8,616.9 749.3,618.2 756.8,619 766.4,619.4 783.5,619.5" fill="none" stroke="#3a3a3a" stroke-width="1.7" stroke-dasharray="6 3.5 0.7 3.5"/>
<polyline points="462.5,421.1 473.2,454.6 475.3,460.6 478.6,468 480.7,472.1 481.8,473.8 485,477.7 488.2,480.9 491.4,483.4 495.7,485.7 499.9,487.4 504.2,488.6 512.8,490.2 519.2,491.1 524.6,491.5 550.2,491.5 555.6,491.1 562,490.2 571.6,488.4 575.9,487.3 604.8,477.6 609.1,475.6 614.4,472.8 623,467.7 629.4,464.9 633.7,462.4 638,459.5 650.8,450.3 654,447.7 659.4,442.7 669,432.8 671.1,430.8 673.3,429.2 675.4,428.3 677.6,428.1 678.6,428.4 680.8,429.5 682.9,431.3 685.1,433.9 687.2,437 689.3,440.5 693.6,448.7 699,460.9 703.2,472.1 708.6,487.5 724.7,538 731.1,556.9 735.4,568.3 738.6,576.1 741.8,583.1 745,589.3 749.3,596.5 753.5,602.3 757.8,607 762.1,610.6 766.4,613.3 771.7,615.7 777.1,617.2 783.5,618.3" fill="none" stroke="#3a3a3a" stroke-width="1.7" stroke-dasharray="6 3.5 0.7 3.5"/>
<polyline points="462.5,421.1 467.9,438 471.1,449.1 476.4,470.9 478.6,481.1 482.8,505.5 492.5,569.5 494.6,581.7 496.7,592 498.9,600.3 499.9,603.7 502.1,609.2 503.2,611.3 505.3,614.5 506.4,615.7 508.5,617.4 511.7,618.7 513.9,619.2 517.1,619.5 783.5,619.5" fill="none" stroke="#444" stroke-width="1.6" stroke-dasharray="5 3"/>
<polyline points="462.5,421.1 474.3,457.7 478.6,468 480.7,472.1 482.8,475.2 486,479 491.4,484.6 494.6,488.7 497.8,494.4 499.9,499.5 503.2,509.3 506.4,521.8 509.6,536.4 517.1,572.4 520.3,585.9 522.4,593.6 525.6,602.8 528.8,609.5 529.9,611.2 532,614 533.1,615.1 535.3,616.7 537.4,617.8 540.6,618.8 544.9,619.3 550.2,619.5 783.5,619.5" fill="none" stroke="#444" stroke-width="1.6" stroke-dasharray="5 3"/>
<polyline points="462.5,421.1 474.3,457.7 478.6,468 481.8,473.8 483.9,476.6 487.1,480 490.3,482.9 495.7,487.3 502.1,491.7 513.9,498.5 517.1,501 520.3,504.5 523.5,509.7 526.7,516.8 528.8,522.6 531,529.1 534.2,540.2 543.8,575.7 547,586.3 550.2,595.4 553.5,602.8 556.7,608.5 559.9,612.6 562,614.6 564.1,616.1 567.4,617.7 571.6,618.8 575.9,619.3 581.3,619.5 783.5,619.5" fill="none" stroke="#444" stroke-width="1.6" stroke-dasharray="5 3"/>
<polyline points="462.5,421.1 473.2,454.6 475.3,460.6 478.6,468 480.7,472.1 482.8,475.2 485,477.8 489.2,482 494.6,486.4 498.9,489.6 504.2,493 510.6,496.5 517.1,499.4 523.5,501.8 535.3,505.6 538.5,506.9 540.6,508.2 542.8,510 546,513.9 548.1,517.2 550.2,521.3 552.4,525.9 555.6,533.9 559.9,546 570.6,578.7 573.8,587.4 577,595.1 580.2,601.5 582.3,605.1 584.5,608.2 587.7,611.8 589.8,613.7 592,615.2 594.1,616.4 596.2,617.3 600.5,618.4 605.9,619.1 613.4,619.5 783.5,619.5" fill="none" stroke="#444" stroke-width="1.6" stroke-dasharray="5 3"/>
<polyline points="462.5,421.1 473.2,454.6 475.3,460.6 477.5,465.6 479.6,470.1 481.8,473.8 485,477.8 489.2,482 495.7,487.3 502.1,491.7 508.5,495.4 516,498.9 524.6,502.1 535.3,505.2 542.8,506.4 555.6,507.6 559.9,508.5 563.1,509.9 565.2,511.4 567.4,513.3 569.5,515.7 571.6,518.7 574.9,524 577,528 580.2,534.8 585.5,547.6 597.3,578.1 601.6,588.1 604.8,594.6 608,600.3 612.3,606.5 614.4,609 616.6,611.1 618.7,612.9 620.9,614.3 625.1,616.4 630.5,618 636.9,619 644.4,619.4 783.5,619.5" fill="none" stroke="#444" stroke-width="1.6" stroke-dasharray="5 3"/>
<polyline points="462.5,421.1 474.3,457.7 476.4,463.1 479.6,470.1 481.8,473.8 483.9,476.6 486,479 490.3,482.9 497.8,488.8 505.3,493.6 513.9,498 522.4,501.4 533.1,504.7 537.4,505.6 541.7,506.2 556.7,507.6 567.4,508.1 578.1,508.1 581.3,508.2 584.5,509 586.6,509.9 588.8,511.4 590.9,513.3 594.1,517 597.3,521.7 600.5,527.1 603.7,533.2 609.1,544.8 618.7,567.8 624.1,580 628.4,588.9 631.6,594.8 634.8,600 639,605.7 643.3,610.2 647.6,613.4 651.9,615.7 657.2,617.5 662.6,618.5 670.1,619.1 686.1,619.5 783.5,619.5" fill="none" stroke="#444" stroke-width="1.6" stroke-dasharray="5 3"/>
<polyline points="462.5,421.1 474.3,457.7 477.5,465.6 480.7,472.1 483.9,476.6 486,479 489.2,482 496.7,488.1 504.2,493 511.7,497 520.3,500.6 531,504.1 535.3,505.2 538.5,505.8 544.9,506.6 556.7,507.6 564.1,508 570.6,508.2 578.1,507.9 598.4,505.7 603.7,505.6 607,506.2 609.1,507.1 611.2,508.4 613.4,510.2 616.6,513.6 619.8,517.8 623,522.6 627.3,530.1 633.7,543 649.8,578.5 654,586.9 657.2,592.6 661.5,599.2 665.8,604.7 670.1,609 672.2,610.7 675.4,613 679.7,615.2 685.1,617.1 691.5,618.4 699,619.1 716.1,619.5 783.5,619.5" fill="none" stroke="#444" stroke-width="1.6" stroke-dasharray="5 3"/>
<polyline points="462.5,421.1 474.3,457.7 477.5,465.6 480.7,472.1 483.9,476.6 488.2,481.1 495.7,487.3 502.1,491.7 508.5,495.4 514.9,498.5 522.4,501.4 529.9,503.8 535.3,505.2 539.5,505.9 546,506.7 555.6,507.5 568.4,508.2 578.1,507.9 594.1,506.2 602.7,505 613.4,503.2 623,501.1 626.2,500.6 628.4,500.5 630.5,500.6 633.7,501.7 636.9,503.8 639,505.7 641.2,508 644.4,512.2 648.7,518.8 653,526.5 657.2,535.1 674.4,573.5 678.6,582.4 681.9,588.5 686.1,595.7 690.4,601.7 694.7,606.6 699,610.5 703.2,613.4 708.6,615.9 711.8,616.9 715,617.7 721.4,618.7 727.9,619.2 737.5,619.4 783.5,619.5" fill="none" stroke="#444" stroke-width="1.6" stroke-dasharray="5 3"/>
<polyline points="462.5,421.1 474.3,457.7 478.6,468 481.8,473.8 485,477.8 488.2,481.1 494.6,486.4 498.9,489.6 504.2,493 509.6,495.9 514.9,498.5 520.3,500.6 525.6,502.5 532,504.4 536.3,505.4 539.5,505.9 547,506.8 559.9,507.8 567.4,508.1 573.8,508.1 581.3,507.6 595.2,506.1 610.2,503.8 617.6,502.3 648.7,494.7 653,493.9 655.1,493.7 657.2,493.9 659.4,494.4 661.5,495.5 664.7,498 666.9,500.3 669,502.9 672.2,507.4 676.5,514.6 679.7,520.7 684,529.8 700,567.5 704.3,577 707.5,583.6 711.8,591.5 715,596.7 718.2,601.2 722.5,606.3 726.8,610.2 728.9,611.8 732.1,613.8 737.5,616.1 742.8,617.6 749.3,618.6 756.8,619.2 766.4,619.4 783.5,619.5" fill="none" stroke="#444" stroke-width="1.6" stroke-dasharray="5 3"/>
<polyline points="462.5,421.1 474.3,457.7 478.6,468 480.7,472.1 482.8,475.2 486,479 489.2,482 495.7,487.3 501,491 506.4,494.2 512.8,497.5 519.2,500.2 525.6,502.5 535.3,505.2 539.5,505.9 544.9,506.6 557.7,507.6 566.3,508.1 572.7,508.2 579.1,507.8 599.5,505.5 615.5,502.8 645.5,495.5 667.9,489.2 673.3,487.9 676.5,487.6 678.6,487.7 681.9,488.7 684,489.8 686.1,491.4 688.3,493.3 692.5,498.2 696.8,504.1 702.2,513 706.5,521 710.7,529.9 725.7,563.2 732.1,576.6 736.4,584.7 739.6,590.2 742.8,595.1 746,599.5 749.3,603.3 753.5,607.5 757.8,610.8 762.1,613.4 766.4,615.3 771.7,617 777.1,618 783.5,618.8" fill="none" stroke="#444" stroke-width="1.6" stroke-dasharray="5 3"/>
<polyline points="462.5,419.5 464.6,430.2 466.8,434.6 467.9,437.7 471.1,449.9 472.1,454.2 476.4,474.6 479.6,494.4 482.8,515.8 487.1,546.9 490.3,568.4 492.5,580.7 494.6,591.2 496.7,599.9 498.9,606.4 499.9,609 501,611.2 503.2,614.4 504.2,615.6 506.4,617.3 509.6,618.7 511.7,619.2 514.9,619.5 783.5,619.5" fill="none" stroke="#000" stroke-width="1.8" stroke-linejoin="round"/>
<polyline points="462.5,421.3 464.6,426.4 468.9,441.5 473.2,454.8 474.3,457.9 476.4,462.7 477.5,465.6 478.6,467.2 480.7,472.4 481.8,474.5 482.8,476.1 483.9,477.2 487.1,479.5 488.2,480.5 489.2,481.6 490.3,483.2 495.7,492.7 497.8,497.8 502.1,511.4 503.2,515.7 507.4,535.3 514.9,571.6 518.1,585.2 520.3,593 522.4,599.7 524.6,605.1 525.6,607.3 527.8,610.8 529.9,613.8 531,614.9 533.1,616.6 535.3,617.8 538.5,618.8 541.7,619.2 547,619.5 783.5,619.5" fill="none" stroke="#000" stroke-width="1.8" stroke-linejoin="round"/>
<polyline points="462.5,420.9 463.6,425.1 465.7,432 467.9,437.8 470,444.9 474.3,456.5 477.5,466.5 478.6,469.1 479.6,470.9 480.7,472.1 482.8,476.2 483.9,477 485,477.3 486,478.3 491.4,484 492.5,485.6 494.6,486.6 496.7,487.8 498.9,489.7 499.9,491 501,491.3 502.1,492.3 503.2,492.4 505.3,493.2 506.4,494.3 507.4,494.7 508.5,495.6 509.6,496 511.7,497.3 516,501.1 518.1,503.6 520.3,506.5 522.4,511.6 524.6,515.8 525.6,518.4 528.8,528 532,539.1 536.3,555.6 541.7,575.1 544.9,585.8 548.1,595.1 551.3,602.5 554.5,608.2 557.7,612.4 559.9,614.4 562,616 565.2,617.6 568.4,618.6 572.7,619.2 578.1,619.5 783.5,619.5" fill="none" stroke="#000" stroke-width="1.8" stroke-linejoin="round"/>
<polyline points="462.5,419.9 468.9,441.4 472.1,450.6 475.3,461.1 476.4,463.6 477.5,465.6 478.6,467.1 480.7,472.6 481.8,474.4 483.9,476.2 487.1,479.7 488.2,480 491.4,482.6 493.5,485.5 494.6,486.6 495.7,487 496.7,487.8 497.8,488.1 503.2,493.2 505.3,493.9 506.4,494.6 508.5,496.6 509.6,496.6 511.7,496.8 514.9,498.1 518.1,500.2 519.2,500.6 520.3,500.8 522.4,500.8 524.6,502 527.8,503.2 528.8,504 529.9,504 533.1,504.8 534.2,504.8 536.3,506.3 537.4,506.3 539.5,507.5 540.6,508.4 542.8,511.2 546,517.3 548.1,520.6 550.2,524.8 558.8,547.9 564.1,565.7 569.5,581.1 572.7,589.6 574.9,594.6 577,599.2 579.1,603.1 582.3,607.9 584.5,610.5 586.6,612.7 589.8,615.1 592,616.3 594.1,617.2 598.4,618.4 603.7,619.1 611.2,619.5 783.5,619.5" fill="none" stroke="#000" stroke-width="1.8" stroke-linejoin="round"/>
<polyline points="462.5,421.4 465.7,431 466.8,435.5 468.9,440 470,443.4 472.1,451.8 474.3,457 475.3,460.4 477.5,465.6 480.7,472.6 481.8,474.5 482.8,475.4 483.9,476.9 485,478 486,478.6 490.3,482.9 492.5,484.3 493.5,485.9 494.6,486.9 497.8,488.6 498.9,489.6 499.9,490.2 501,489.9 502.1,490.2 504.2,493.2 505.3,493.9 507.4,494.8 508.5,495.5 509.6,495.7 510.6,496.5 512.8,497.2 513.9,497.3 514.9,498 516,498.3 518.1,500.1 520.3,501.2 521.4,501.2 522.4,501.9 523.5,502 524.6,501.9 526.7,502.3 528.8,503.4 531,503.9 532,504.4 535.3,505 538.5,505.2 540.6,506.1 542.8,505.9 543.8,506.1 544.9,506.5 547,506.8 548.1,506.6 549.2,506.8 550.2,506.4 551.3,507.3 554.5,508.4 555.6,508.6 557.7,508.6 558.8,509.1 559.9,509.3 563.1,511.3 564.1,512.1 565.2,512.6 566.3,513.7 570.6,519.6 572.7,522.9 575.9,529.9 578.1,533.7 584.5,549.5 594.1,575 598.4,585.2 602.7,594.2 607,601.8 609.1,604.8 612.3,608.7 614.4,610.9 616.6,612.8 618.7,614.2 623,616.3 628.4,618 634.8,618.9 642.3,619.4 783.5,619.5" fill="none" stroke="#000" stroke-width="1.8" stroke-linejoin="round"/>
<polyline points="462.5,421.8 467.9,437.1 474.3,458.9 478.6,469.1 481.8,474.1 482.8,474.8 485,478 489.2,482 490.3,483.6 492.5,484.9 493.5,486.1 496.7,487.7 498.9,489.9 501,491.3 502.1,492.3 503.2,492.3 505.3,493.6 506.4,494.6 508.5,495.1 509.6,495.8 510.6,496.7 511.7,497 513.9,497.9 514.9,498.1 517.1,499.8 518.1,500.3 520.3,500.3 522.4,500.8 524.6,502.4 527.8,502.9 529.9,503.6 532,503.6 533.1,504.3 534.2,504.7 535.3,504.7 536.3,504.2 538.5,505.8 540.6,505.4 541.7,505.8 542.8,506.5 544.9,506.7 546,506.6 547,507 548.1,507.1 549.2,506.9 550.2,506.4 551.3,506.6 552.4,507.2 553.5,507.2 555.6,508.5 556.7,508.9 557.7,508.6 558.8,507.3 559.9,507.1 563.1,508.7 565.2,508.8 568.4,508.3 569.5,508.1 570.6,507.5 571.6,507.7 572.7,507.5 573.8,508.2 575.9,507.9 577,508.6 579.1,508.1 580.2,508.3 581.3,508.7 582.3,509.8 584.5,509.7 585.5,510.2 587.7,512 596.2,522.9 597.3,524.8 599.5,527.7 610.2,551.7 621.9,579.8 625.1,586.4 629.4,594.5 632.6,599.7 635.8,604.3 639,607.9 641.2,609.9 644.4,612.5 646.5,613.9 648.7,615.1 651.9,616.5 656.2,617.7 661.5,618.6 669,619.2 685.1,619.5 783.5,619.5" fill="none" stroke="#000" stroke-width="1.8" stroke-linejoin="round"/>
<polyline points="462.5,421.2 464.6,426.2 465.7,430.8 470,445.4 471.1,449.6 472.1,452.8 473.2,455.1 476.4,463.6 478.6,467.3 480.7,471.9 481.8,473.6 483.9,476 485,478 486,479.5 489.2,482.3 490.3,482.4 491.4,483.4 493.5,485.9 495.7,487.8 496.7,488.1 498.9,489 502.1,491.9 503.2,491.7 504.2,491.9 505.3,493.3 506.4,494.2 510.6,497.1 512.8,497.7 516,498.9 517.1,499.6 518.1,499.7 519.2,500.5 522.4,501.2 524.6,502.5 526.7,502.8 528.8,504.1 529.9,504.3 532,503.7 533.1,504.4 538.5,505.7 539.5,505.9 540.6,505.6 542.8,506.3 543.8,506.3 544.9,506 549.2,507.3 553.5,506.8 554.5,507.1 557.7,507 558.8,508.2 560.9,507.8 563.1,507.8 566.3,508.9 567.4,508.2 568.4,507.8 571.6,508.1 572.7,508.4 573.8,508.4 574.9,508.7 577,507.6 578.1,507.5 580.2,507.8 581.3,507.6 582.3,507.7 586.6,506.9 588.8,507.5 589.8,507.5 592,506 593,506.2 594.1,506.8 595.2,506.3 596.2,506.3 597.3,506.5 598.4,507 601.6,506.9 602.7,506.2 603.7,506.1 605.9,507.3 607,507.4 609.1,508.2 610.2,509.3 612.3,510.8 615.5,514.2 617.6,517.3 626.2,531.4 628.4,535.5 631.6,543 635.8,551.9 648.7,580.4 653,588.5 656.2,594 661.5,601.8 665.8,606.7 670.1,610.6 674.4,613.4 679.7,616 684,617.3 689.3,618.4 696.8,619.1 714,619.5 783.5,619.5" fill="none" stroke="#000" stroke-width="1.8" stroke-linejoin="round"/>
<polyline points="462.5,422.2 463.6,423.9 464.6,426.7 473.2,455.1 474.3,457.4 475.3,460.8 478.6,467.5 479.6,469.5 480.7,470.9 482.8,475.3 485,478.1 491.4,483.5 492.5,484.9 493.5,485.5 496.7,488.3 501,490.8 502.1,491.9 503.2,492.2 504.2,492.8 506.4,494 508.5,495.7 511.7,496.6 516,499.5 518.1,499.8 519.2,500.2 520.3,499.9 522.4,500.7 524.6,502.5 526.7,502.8 527.8,503.6 529.9,504.2 531,503.9 532,504.1 534.2,506 536.3,506.1 537.4,505.8 538.5,505.9 539.5,505.6 542.8,506.6 544.9,506.6 546,506.4 547,506.4 548.1,506 550.2,507.1 553.5,507.2 555.6,508 556.7,508.1 559.9,507 560.9,507.4 562,507.5 564.1,508.4 565.2,508.4 566.3,508.8 567.4,508.5 568.4,507.9 569.5,507.9 570.6,507.6 574.9,507.6 575.9,508.1 578.1,507.3 581.3,507.6 582.3,508.1 584.5,507.1 585.5,507 586.6,507.3 588.8,507 589.8,507.1 593,506.4 594.1,505.6 597.3,505.9 598.4,506.2 600.5,505.3 601.6,505 604.8,504.8 607,504 608,504.1 609.1,504.5 610.2,504.1 611.2,503.3 612.3,503 613.4,503 614.4,503.5 615.5,503.2 616.6,502.6 617.6,502.5 618.7,502.9 619.8,502.7 620.9,501.9 621.9,501.6 623,501.7 626.2,500.7 629.4,501.9 630.5,501.8 631.6,502.1 632.6,503.1 633.7,503.6 634.8,503.7 635.8,504.2 639,508.1 641.2,509.8 644.4,515.4 647.6,519.7 651.9,529 654,532.7 657.2,539.1 659.4,543.9 662.6,552.1 665.8,558.7 671.1,570.8 677.6,584 682.9,593.7 686.1,598.6 691.5,605.2 694.7,608.5 696.8,610.3 702.2,613.8 706.5,615.8 709.7,616.9 712.9,617.7 719.3,618.6 725.7,619.1 735.4,619.4 783.5,619.5" fill="none" stroke="#000" stroke-width="1.8" stroke-linejoin="round"/>
<polyline points="462.5,420.7 463.6,423.5 468.9,441.7 473.2,454.7 476.4,463.4 478.6,467 480.7,471.9 482.8,474.4 485,477.4 487.1,479.2 492.5,484.8 494.6,486.5 496.7,487.3 498.9,488.6 502.1,491.9 504.2,492.6 506.4,494.6 508.5,495.3 510.6,497.1 511.7,497.3 512.8,498.1 514.9,499.1 517.1,499.5 518.1,499.5 519.2,500 520.3,500.2 522.4,501.4 523.5,501.8 524.6,502 527.8,503.5 528.8,503.5 529.9,504 531,504.2 532,504.7 534.2,505.4 535.3,505.1 536.3,505.1 537.4,504.9 538.5,505.1 539.5,505.8 540.6,505.7 541.7,506.2 546,506.8 548.1,506.1 550.2,507.2 551.3,507.2 552.4,507.6 554.5,507.7 555.6,508 556.7,507.9 557.7,508.3 559.9,507.6 560.9,508.1 562,508.2 563.1,507.8 564.1,507.8 566.3,508.4 567.4,508.3 568.4,508.6 569.5,508.6 570.6,507.9 573.8,508.3 574.9,507.8 575.9,507.1 577,508.3 578.1,508.3 580.2,507.7 583.4,507.6 584.5,507.1 586.6,506.5 587.7,506.4 588.8,506.7 589.8,506.7 590.9,507.2 592,507.1 593,506.4 595.2,505.9 597.3,505.9 598.4,505.3 599.5,505.3 600.5,505.6 603.7,505.1 604.8,505.3 605.9,504.8 609.1,504.1 610.2,504 613.4,502.6 614.4,502.8 615.5,502.5 616.6,502.5 617.6,502.8 619.8,502.5 620.9,501.7 621.9,500.5 623,500.7 624.1,500.5 626.2,499.5 627.3,499.6 628.4,500.7 629.4,500.2 630.5,498.8 631.6,498.4 633.7,499 634.8,498.4 635.8,498.5 636.9,498.4 638,497.7 640.1,497.1 642.3,495.9 644.4,496.6 645.5,496.5 647.6,494.5 649.8,494 650.8,494.2 651.9,493.6 653,494 656.2,494.1 659.4,496.2 660.5,496.8 661.5,497.9 663.7,499.5 664.7,501.3 666.9,503.2 667.9,503.7 669,505.3 670.1,507.4 674.4,513.6 677.6,519.8 679.7,524.4 680.8,527.4 687.2,541.7 695.8,562.1 701.1,574.1 706.5,585.4 710.7,593 714,598 718.2,603.5 722.5,608.1 724.7,610 727.9,612.3 732.1,614.7 737.5,616.7 742.8,618 749.3,618.8 756.8,619.3 783.5,619.5" fill="none" stroke="#000" stroke-width="1.8" stroke-linejoin="round"/>
<polyline points="462.5,420.6 465.7,430.6 466.8,433.4 472.1,450.9 474.3,457 476.4,461.8 478.6,468.1 480.7,472.6 481.8,474.3 482.8,475.2 483.9,476.7 486,479 487.1,479.6 488.2,481.2 489.2,482.4 491.4,484 492.5,485.2 493.5,485.4 497.8,488.4 498.9,490 499.9,490.8 502.1,491.9 504.2,493.8 506.4,495 507.4,494.8 508.5,495.3 509.6,495.8 511.7,497.4 512.8,497.4 513.9,498 514.9,499.2 516,499.4 518.1,500 520.3,501.6 522.4,501.4 524.6,502.1 526.7,503.1 529.9,503.8 531,503.8 533.1,504.8 536.3,504.3 537.4,504.9 538.5,504.8 540.6,506.3 541.7,506.3 542.8,505.6 543.8,505.4 546,506.5 547,505.9 548.1,505.9 551.3,507.2 553.5,507.6 554.5,507.2 555.6,507.1 556.7,507.4 559.9,507.1 560.9,507.8 563.1,508.1 564.1,508.1 565.2,508.8 567.4,509.3 568.4,508.5 569.5,508.3 572.7,508.4 573.8,508 575.9,507.5 578.1,507.5 580.2,507.9 582.3,507.5 586.6,507.6 590.9,506.1 594.1,506.8 595.2,506.2 596.2,506 598.4,505.8 599.5,505.9 603.7,504.2 604.8,504.8 605.9,504.9 608,503.3 609.1,503.5 610.2,503.3 612.3,503.6 614.4,502.7 615.5,502.8 616.6,502.4 618.7,502.3 620.9,501.9 621.9,502.5 624.1,501.3 629.4,499.7 630.5,499.1 631.6,499.2 632.6,498.2 634.8,498.2 635.8,497.9 636.9,496.9 638,496.4 639,496.3 640.1,495.9 641.2,496 643.3,495.6 644.4,495.9 645.5,495.2 646.5,495.1 647.6,494.9 649.8,493.9 650.8,493.7 651.9,494.1 654,493.1 655.1,493.3 656.2,493.1 657.2,492.7 659.4,491.2 660.5,491.2 661.5,490.8 663.7,490.6 665.8,488.9 666.9,488.9 667.9,488.3 671.1,488.4 672.2,488.7 675.4,487.6 677.6,487.8 679.7,488.3 681.9,490.2 682.9,490.4 684,491.5 686.1,492.8 687.2,494.4 690.4,497.8 692.5,500.9 693.6,502.1 696.8,507.5 700,513.8 706.5,525 709.7,531.3 715,543.8 720.4,555.8 723.6,562.3 726.8,569.8 732.1,580.5 737.5,589.9 743.9,599.2 748.2,604.1 751.4,607.3 756.8,611.4 761,613.8 764.2,615.2 770.7,617.2 776,618.2 783.5,618.9" fill="none" stroke="#000" stroke-width="1.8" stroke-linejoin="round"/>
</g>
<rect x="462.5" y="366.5" width="321" height="253" fill="none" stroke="#000" stroke-width="1.1"/>
<path d="M462.5 619.5v-3.5M462.5 366.5v3.5M526.7 619.5v-3.5M526.7 366.5v3.5M590.9 619.5v-3.5M590.9 366.5v3.5M655.1 619.5v-3.5M655.1 366.5v3.5M719.3 619.5v-3.5M719.3 366.5v3.5M783.5 619.5v-3.5M783.5 366.5v3.5M462.5 619.5h3.5M783.5 619.5h-3.5M462.5 577.33h3.5M783.5 577.33h-3.5M462.5 535.17h3.5M783.5 535.17h-3.5M462.5 493h3.5M783.5 493h-3.5M462.5 450.83h3.5M783.5 450.83h-3.5M462.5 408.67h3.5M783.5 408.67h-3.5M462.5 366.5h3.5M783.5 366.5h-3.5" stroke="#000" stroke-width="1.1" fill="none"/>
<text class="s" x="454" y="623.8" font-size="14" text-anchor="end">0</text>
<text class="s" x="454" y="581.63" font-size="14" text-anchor="end">0.2</text>
<text class="s" x="454" y="539.47" font-size="14" text-anchor="end">0.4</text>
<text class="s" x="454" y="497.3" font-size="14" text-anchor="end">0.6</text>
<text class="s" x="454" y="455.13" font-size="14" text-anchor="end">0.8</text>
<text class="s" x="454" y="412.97" font-size="14" text-anchor="end">1</text>
<text class="s" x="454" y="370.8" font-size="14" text-anchor="end">1.2</text>
<text class="s" x="462.5" y="637.1" font-size="14" text-anchor="middle">0</text>
<text class="s" x="526.7" y="637.1" font-size="14" text-anchor="middle">0.2</text>
<text class="s" x="590.9" y="637.1" font-size="14" text-anchor="middle">0.4</text>
<text class="s" x="655.1" y="637.1" font-size="14" text-anchor="middle">0.6</text>
<text class="s" x="719.3" y="637.1" font-size="14" text-anchor="middle">0.8</text>
<text class="s" x="783.5" y="637.1" font-size="14" text-anchor="middle">1</text>
<text class="s" x="539.1" y="659" font-size="17.5">Distance from limbus x</text>
<text class="s" font-size="17.5" text-anchor="middle" transform="translate(420 490) rotate(-90)">E(x,t)</text>
<path d="M494.8 455.7H571.3" stroke="#000" stroke-width="1.2"/>
<path d="M575.3 455.7L564.8 451.7L567.8 455.7L564.8 459.7Z" fill="#000"/>
<text class="s" x="530.1" y="450" font-size="15.5" text-anchor="middle">t</text>
<text class="r" x="518.4" y="687.4" font-size="22" font-weight="bold" textLength="27" lengthAdjust="spacingAndGlyphs">(d)</text>
<text class="r" x="549.1" y="688.7" font-size="20" font-style="italic" textLength="14" lengthAdjust="spacingAndGlyphs">P</text>
<text class="r" x="563.2" y="692.3" font-size="15.5" font-style="italic" textLength="9.6" lengthAdjust="spacingAndGlyphs">p</text>
<path d="M581.9 681.5H597.3M581.9 685.9H597.3" stroke="#000" stroke-width="1.25"/>
<text class="r" x="603.7" y="688.7" font-size="20" textLength="21.4" lengthAdjust="spacingAndGlyphs">10</text>
<path d="M627.8 678.3H640.3" stroke="#000" stroke-width="1.1"/>
<text class="r" x="641.2" y="682" font-size="14">2</text>
<text class="r" x="653.1" y="688.7" font-size="20">,</text>
<text class="r" x="662.3" y="688.7" font-size="20" font-style="italic" textLength="10.6" lengthAdjust="spacingAndGlyphs">a</text>
<text class="r" x="673.4" y="692.2" font-size="15.5" font-style="italic" textLength="11.2" lengthAdjust="spacingAndGlyphs">n</text>
<path d="M694.1 681.5H709.4M694.1 685.9H709.4" stroke="#000" stroke-width="1.25"/>
<text class="r" x="715.4" y="688.7" font-size="20" textLength="28" lengthAdjust="spacingAndGlyphs">0.2</text>
<clipPath id="cpe"><rect x="62.5" y="731.5" width="320" height="249.5"/></clipPath><g clip-path="url(#cpe)">
<polyline points="62.5,981 66.8,980.7 68.9,980 70,979.3 71,978.1 72.1,976.4 73.2,974 74.2,970.5 75.3,965.8 76.4,959.7 77.4,952.1 78.5,943.1 82.8,900.1 83.8,890.8 84.9,883.8 86,879.6 87,878.6 88.1,880 89.2,883.5 90.2,888.9 92.4,903.6 97.7,946.2 99.8,959.2 100.9,964.2 102,968.4 103,971.7 104.1,974.3 105.2,976.3 106.2,977.7 107.3,978.8 109.4,980 112.6,980.8 119,981 382.5,981" fill="none" stroke="#3a3a3a" stroke-width="1.7" stroke-dasharray="6 3.5 0.7 3.5"/>
<polyline points="62.5,981 75.3,980.9 78.5,980.7 81.7,980.3 83.8,979.7 86,978.7 88.1,977.2 90.2,975 92.4,971.9 93.4,970 96.6,962.6 98.8,956.4 105.2,935.7 107.3,930.1 109.4,926.1 110.5,924.9 111.6,924.3 112.6,924.3 113.7,924.8 114.8,925.8 115.8,927.3 118,931.5 120.1,937 127.6,959.1 130.8,966.8 132.9,970.9 135,974 136.1,975.3 138.2,977.3 141.4,979.2 144.6,980.2 150,980.8 158.5,981 382.5,981" fill="none" stroke="#3a3a3a" stroke-width="1.7" stroke-dasharray="6 3.5 0.7 3.5"/>
<polyline points="62.5,981 91.3,981 98.8,980.8 102,980.6 105.2,980 107.3,979.4 109.4,978.5 111.6,977.1 113.7,975.3 115.8,972.9 118,969.8 120.1,966.1 122.2,961.9 128.6,947.9 131.8,942.3 134,939.8 135,939 136.1,938.7 137.2,938.6 138.2,938.9 139.3,939.5 140.4,940.5 142.5,943.2 145.7,948.9 153.2,964.4 156.4,969.9 158.5,972.8 160.6,975.2 163.8,977.7 167,979.2 171.3,980.3 176.6,980.8 186.2,981 382.5,981" fill="none" stroke="#3a3a3a" stroke-width="1.7" stroke-dasharray="6 3.5 0.7 3.5"/>
<polyline points="62.5,981 120.1,980.9 127.6,980.4 130.8,979.9 132.9,979.2 135,978.4 137.2,977.2 139.3,975.7 141.4,973.7 143.6,971.3 145.7,968.5 154.2,955.1 157.4,950.8 159.6,948.8 160.6,948.1 162.8,947.3 163.8,947.3 164.9,947.6 167,948.6 168.1,949.4 170.2,951.5 173.4,955.6 182,968.1 185.2,971.9 187.3,974.1 190.5,976.6 193.7,978.3 196.9,979.5 200.1,980.2 206.5,980.8 216.1,981 382.5,981" fill="none" stroke="#3a3a3a" stroke-width="1.7" stroke-dasharray="6 3.5 0.7 3.5"/>
<polyline points="62.5,981 142.5,981 151,980.6 156.4,979.8 159.6,978.9 161.7,978 164.9,976 167,974.3 171.3,969.8 179.8,958.3 183,954.6 185.2,952.7 186.2,952 188.4,951.2 189.4,951.1 190.5,951.1 192.6,951.7 194.8,952.9 196.9,954.7 200.1,958 209.7,969.6 212.9,972.8 215,974.6 218.2,976.8 221.4,978.3 224.6,979.4 227.8,980.1 234.2,980.7 244.9,981 382.5,981" fill="none" stroke="#3a3a3a" stroke-width="1.7" stroke-dasharray="6 3.5 0.7 3.5"/>
<polyline points="62.5,981 161.7,981 170.2,980.7 176.6,979.9 179.8,979 183,977.8 186.2,975.9 188.4,974.3 192.6,970.3 202.2,958.8 205.4,955.5 208.6,953.3 210.8,952.5 211.8,952.3 214,952.5 216.1,953.2 218.2,954.4 220.4,956 223.6,959 233.2,969.4 236.4,972.4 239.6,974.9 242.8,976.9 246,978.3 249.2,979.3 252.4,980 258.8,980.7 269.4,981 382.5,981" fill="none" stroke="#3a3a3a" stroke-width="1.7" stroke-dasharray="6 3.5 0.7 3.5"/>
<polyline points="62.5,981 185.2,981 195.8,980.7 202.2,980.2 205.4,979.6 208.6,978.6 211.8,977.3 215,975.5 217.2,974 220.4,971.2 231,960.2 234.2,957.3 236.4,955.8 238.5,954.8 240.6,954.2 241.7,954.2 243.8,954.4 246,955 248.1,956 250.2,957.4 254.5,960.8 265.2,970.7 268.4,973.2 271.6,975.3 273.7,976.4 276.9,977.9 280.1,978.9 283.3,979.7 290.8,980.6 300.4,980.9 382.5,981" fill="none" stroke="#3a3a3a" stroke-width="1.7" stroke-dasharray="6 3.5 0.7 3.5"/>
<polyline points="62.5,981 210.8,981 221.4,980.8 228.9,980.3 233.2,979.5 236.4,978.6 239.6,977.3 242.8,975.5 246,973.2 249.2,970.4 258.8,960.4 263,956.6 265.2,955.1 267.3,954.1 269.4,953.6 270.5,953.6 272.6,953.7 274.8,954.3 276.9,955.2 279,956.5 283.3,959.7 295,970.2 299.3,973.4 302.5,975.3 305.7,976.9 308.9,978.2 312.1,979.1 315.3,979.8 319.6,980.3 328.1,980.8 382.5,981" fill="none" stroke="#3a3a3a" stroke-width="1.7" stroke-dasharray="6 3.5 0.7 3.5"/>
<polyline points="62.5,981 235.3,981 247,980.8 254.5,980.3 258.8,979.5 262,978.7 265.2,977.4 268.4,975.8 271.6,973.6 274.8,971 278,967.9 285.4,960.1 289.7,956.2 291.8,954.8 294,953.7 296.1,953.1 298.2,952.9 300.4,953.2 302.5,953.7 304.6,954.6 307.8,956.3 312.1,959.3 322.8,968.2 328.1,972.2 333.4,975.3 336.6,976.8 339.8,977.9 346.2,979.5 354.8,980.5 364.4,980.9 382.5,981" fill="none" stroke="#3a3a3a" stroke-width="1.7" stroke-dasharray="6 3.5 0.7 3.5"/>
<polyline points="62.5,981 256.6,981 268.4,980.8 275.8,980.4 280.1,979.7 284.4,978.6 288.6,976.8 291.8,974.8 295,972.3 298.2,969.3 308.9,957.4 312.1,954.3 314.2,952.6 316.4,951.4 318.5,950.7 320.6,950.4 322.8,950.6 326,951.4 328.1,952.2 331.3,954 336.6,957.7 347.3,966.5 351.6,969.8 355.8,972.6 360.1,975 364.4,976.8 369.7,978.5 376.1,979.8 382.5,980.4" fill="none" stroke="#3a3a3a" stroke-width="1.7" stroke-dasharray="6 3.5 0.7 3.5"/>
<polyline points="62.5,981 65.7,980.9 67.8,980.6 70,979.7 71,978.9 72.1,977.5 73.2,975.5 74.2,972.7 75.3,968.7 76.4,963.4 77.4,956.7 78.5,948.5 82.8,905.9 84.9,887.3 86,881.3 87,878.3 88.1,878.4 89.2,880.7 90.2,885 91.3,891 93.4,906.6 97.7,941.5 99.8,955.5 102,965.9 103,969.8 104.1,972.8 105.2,975.1 106.2,976.9 107.3,978.2 108.4,979.1 110.5,980.2 113.7,980.8 120.1,981 382.5,981" fill="none" stroke="#444" stroke-width="1.6" stroke-dasharray="5 3"/>
<polyline points="62.5,981 75.3,980.9 78.5,980.7 81.7,980.3 83.8,979.8 86,978.9 88.1,977.5 90.2,975.4 92.4,972.5 93.4,970.6 96.6,963.4 99.8,954.1 105.2,936.6 107.3,930.8 109.4,926.5 110.5,925.1 111.6,924.3 112.6,924.2 113.7,924.5 114.8,925.4 115.8,926.7 118,930.7 121.2,939.1 126.5,955.2 128.6,961.1 130.8,966.1 132.9,970.3 135,973.6 136.1,974.9 138.2,977 141.4,979 144.6,980.1 150,980.8 158.5,981 382.5,981" fill="none" stroke="#444" stroke-width="1.6" stroke-dasharray="5 3"/>
<polyline points="62.5,981 91.3,981 98.8,980.8 102,980.6 105.2,980 107.3,979.4 109.4,978.5 111.6,977.2 113.7,975.3 115.8,972.9 118,969.9 120.1,966.2 122.2,962 128.6,948.1 131.8,942.5 134,940 135,939.3 136.1,938.9 137.2,938.8 138.2,939.1 139.3,939.8 140.4,940.7 142.5,943.4 145.7,949.1 153.2,964.5 156.4,969.9 158.5,972.8 160.6,975.2 163.8,977.7 167,979.3 171.3,980.3 176.6,980.8 186.2,981 382.5,981" fill="none" stroke="#444" stroke-width="1.6" stroke-dasharray="5 3"/>
<polyline points="62.5,981 120.1,980.9 127.6,980.4 130.8,979.8 132.9,979.2 135,978.4 137.2,977.2 139.3,975.7 141.4,973.7 143.6,971.3 145.7,968.5 153.2,957 156.4,952.5 158.5,950.2 159.6,949.3 161.7,948.2 162.8,948 163.8,948.1 166,948.7 168.1,950.2 170.2,952.3 173.4,956.3 182,968.5 185.2,972.3 187.3,974.4 189.4,976.1 192.6,978 195.8,979.2 200.1,980.2 206.5,980.8 216.1,981 382.5,981" fill="none" stroke="#444" stroke-width="1.6" stroke-dasharray="5 3"/>
<polyline points="62.5,981 142.5,981 151,980.6 156.4,979.9 159.6,979 161.7,978.1 164.9,976.2 167,974.5 171.3,970.2 179.8,959.1 183,955.4 185.2,953.6 186.2,953 188.4,952.2 189.4,952 190.5,952.1 192.6,952.7 194.8,953.9 196.9,955.5 200.1,958.8 209.7,970 212.9,973.1 215,974.8 218.2,976.9 221.4,978.4 224.6,979.5 227.8,980.1 234.2,980.7 244.9,981 382.5,981" fill="none" stroke="#444" stroke-width="1.6" stroke-dasharray="5 3"/>
<polyline points="62.5,981 162.8,981 171.3,980.7 177.7,979.9 180.9,979.1 183,978.3 186.2,976.6 188.4,975.1 190.5,973.3 193.7,970 202.2,959.6 205.4,956.2 208.6,953.8 210.8,953 211.8,952.8 212.9,952.8 215,953.3 217.2,954.3 219.3,955.7 223.6,959.8 233.2,970.3 236.4,973.2 238.5,974.9 241.7,976.9 244.9,978.4 248.1,979.4 251.3,980 257.7,980.7 268.4,981 382.5,981" fill="none" stroke="#444" stroke-width="1.6" stroke-dasharray="5 3"/>
<polyline points="62.5,981 186.2,981 195.8,980.8 202.2,980.2 205.4,979.6 208.6,978.7 211.8,977.4 214,976.2 216.1,974.8 219.3,972.2 228.9,963 232.1,960.3 235.3,958.5 237.4,957.9 238.5,957.8 240.6,957.9 242.8,958.4 244.9,959.2 247,960.4 251.3,963.3 262,971.8 265.2,974 268.4,975.9 271.6,977.4 274.8,978.5 278,979.4 281.2,980 288.6,980.7 298.2,980.9 382.5,981" fill="none" stroke="#444" stroke-width="1.6" stroke-dasharray="5 3"/>
<polyline points="62.5,981 206.5,981 217.2,980.8 223.6,980.4 227.8,979.8 231,979.1 234.2,978 237.4,976.5 239.6,975.2 242.8,973 253.4,964 256.6,961.6 258.8,960.4 260.9,959.6 264.1,959.1 266.2,959.2 268.4,959.7 272.6,961.4 276.9,964 288.6,972.3 292.9,974.9 296.1,976.5 299.3,977.8 302.5,978.7 305.7,979.5 313.2,980.5 322.8,980.9 382.5,981" fill="none" stroke="#444" stroke-width="1.6" stroke-dasharray="5 3"/>
<polyline points="62.5,981 230,981 241.7,980.8 249.2,980.4 253.4,979.8 256.6,979 259.8,978 263,976.6 266.2,974.8 269.4,972.6 280.1,963.8 283.3,961.5 285.4,960.2 287.6,959.3 289.7,958.7 291.8,958.4 294,958.5 296.1,958.9 298.2,959.5 301.4,960.8 305.7,963.2 317.4,971 322.8,974.1 328.1,976.6 334.5,978.7 340.9,979.9 349.4,980.6 360.1,980.9 382.5,981" fill="none" stroke="#444" stroke-width="1.6" stroke-dasharray="5 3"/>
<polyline points="62.5,981 253.4,981 266.2,980.9 274.8,980.5 279,980.1 283.3,979.5 287.6,978.5 290.8,977.4 294,976.2 298.2,974 310,966.9 314.2,964.6 317.4,963.3 319.6,962.7 321.7,962.3 323.8,962.2 326,962.3 329.2,962.8 334.5,964.4 339.8,966.7 354.8,974.1 359,975.9 363.3,977.3 367.6,978.4 371.8,979.3 377.2,980 382.5,980.5" fill="none" stroke="#444" stroke-width="1.6" stroke-dasharray="5 3"/>
<polyline points="62.5,981 66.8,980.7 67.8,980.4 70,979.2 71,978.1 72.1,976.5 73.2,974 74.2,970.7 75.3,966 76.4,959.9 78.5,943.6 82.8,899.5 83.8,890.2 84.9,883.6 86,879.2 87,878.3 88.1,879.6 89.2,883.9 91.3,896.6 97.7,945.6 98.8,952.4 100.9,963.8 102,968.3 103,971.8 104.1,974.4 105.2,976.2 107.3,978.6 108.4,979.5 110.5,980.4 113.7,980.9 119,981 382.5,981" fill="none" stroke="#000" stroke-width="1.8" stroke-linejoin="round"/>
<polyline points="62.5,981 74.2,981 79.6,980.6 82.8,980.1 84.9,979.2 86,978.4 89.2,975.8 90.2,974.6 93.4,969.4 95.6,964.7 98.8,955.5 104.1,937.7 107.3,929.2 109.4,925.8 111.6,925.2 113.7,925.7 115.8,927.3 118,933.1 119,934.6 121.2,941.2 122.2,945.7 123.3,947.7 124.4,950.5 126.5,957.1 128.6,962.1 131.8,970.6 134,973.6 136.1,975.2 138.2,977.5 140.4,978.8 142.5,979.7 144.6,980.2 150,980.9 159.6,981 382.5,981" fill="none" stroke="#000" stroke-width="1.8" stroke-linejoin="round"/>
<polyline points="62.5,981 88.1,981 97.7,980.8 104.1,980.3 107.3,979.2 108.4,979.1 111.6,976.9 115.8,972.4 118,969.2 120.1,964 121.2,962.5 122.2,959.8 124.4,956.4 127.6,950.2 128.6,947.3 130.8,943.4 131.8,941 132.9,941.3 134,941.1 135,939.5 136.1,938.4 137.2,938.9 138.2,940.4 139.3,940.7 140.4,942.2 141.4,942.7 143.6,945.9 147.8,955.2 148.9,956.7 150,958.9 152.1,964.5 153.2,966 154.2,966.9 157.4,972.8 159.6,974.9 160.6,975.4 161.7,976.3 163.8,977.3 164.9,978.2 168.1,979.8 170.2,980.5 177.7,980.9 187.3,981 382.5,981" fill="none" stroke="#000" stroke-width="1.8" stroke-linejoin="round"/>
<polyline points="62.5,981 121.2,980.9 127.6,980.3 134,978.8 136.1,977.2 139.3,975.3 141.4,973 145.7,969.3 146.8,965.9 147.8,963.4 148.9,962.5 150,962 151,959.3 152.1,957.2 154.2,954 156.4,952.5 157.4,951.3 159.6,949.9 160.6,947.5 161.7,946.2 162.8,946.9 163.8,948 164.9,948.1 166,947.6 167,949.3 168.1,950.3 170.2,951.9 175.6,961.1 178.8,965.2 179.8,966.2 182,970 183,970.9 185.2,973.4 188.4,975.7 190.5,976.6 192.6,978.3 193.7,979.4 194.8,979.3 196.9,979.4 201.2,980.6 209.7,981 221.4,981 382.5,981" fill="none" stroke="#000" stroke-width="1.8" stroke-linejoin="round"/>
<polyline points="62.5,981 145.7,980.9 150,980.7 157.4,979.3 159.6,978.5 162.8,976.8 163.8,976.5 166,974.5 167,974.1 168.1,973.2 169.2,972 170.2,971.2 171.3,969.8 172.4,968.9 173.4,967 175.6,962.3 176.6,960.8 177.7,960 178.8,958.9 179.8,957.2 180.9,956.4 182,956.8 184.1,953.9 185.2,952.9 186.2,953.9 187.3,953 188.4,951.8 189.4,952.9 190.5,952.7 191.6,953 192.6,953.7 193.7,953.4 195.8,953.3 198,956.7 199,957.6 201.2,960.6 202.2,961.2 203.3,963.1 205.4,965 206.5,966.9 207.6,968 209.7,971.3 211.8,971.9 212.9,972.5 214,973.6 215,974.3 217.2,976.8 218.2,977.5 220.4,978.7 221.4,978.7 223.6,979.6 224.6,979.6 227.8,980 232.1,980.7 241.7,981 382.5,981" fill="none" stroke="#000" stroke-width="1.8" stroke-linejoin="round"/>
<polyline points="62.5,981 168.1,981 170.2,980.9 173.4,980.1 175.6,980.1 178.8,979.4 179.8,979.3 183,978.2 184.1,978.1 186.2,976.9 187.3,976.7 189.4,974.4 190.5,972.4 191.6,971.1 192.6,970.9 193.7,969.7 194.8,969.1 195.8,967.2 196.9,966.3 199,963.6 200.1,961.1 201.2,959.3 202.2,959 203.3,956.7 204.4,956.7 205.4,954.7 206.5,954.8 207.6,955.3 209.7,952.9 210.8,952.2 212.9,952.9 214,953 216.1,954.9 217.2,956.6 218.2,956.4 219.3,955.7 220.4,957.8 222.5,959.5 223.6,961.1 224.6,962 225.7,962.3 228.9,966.6 230,967.2 232.1,970.1 233.2,971.2 235.3,972.9 237.4,975.5 238.5,976.1 239.6,976 241.7,977.7 242.8,978.2 246,978.8 247,979.3 248.1,979.3 249.2,979.9 251.3,980 253.4,980.8 263,981 382.5,981" fill="none" stroke="#000" stroke-width="1.8" stroke-linejoin="round"/>
<polyline points="62.5,981 190.5,981 193.7,980.7 194.8,981 195.8,981 200.1,980.6 204.4,979.3 205.4,978.9 206.5,978.7 207.6,978.8 209.7,977.5 211.8,977.5 212.9,977 214,975.5 215,974.8 216.1,974.6 217.2,974.2 218.2,973.2 219.3,971.6 220.4,971.6 221.4,969.6 223.6,969.2 225.7,965.3 227.8,962.3 228.9,961.2 231,960 232.1,961.5 233.2,960.7 235.3,961.2 236.4,959.1 237.4,958.5 239.6,956.1 240.6,958 241.7,960.9 242.8,960.9 244.9,960.5 246,959.4 247,960.3 248.1,959.9 249.2,961.7 250.2,962.6 251.3,962.6 252.4,963.7 253.4,965.3 254.5,965.9 256.6,968.1 257.7,968.4 258.8,970.6 260.9,972.1 263,974.5 266.2,974.6 267.3,975.1 269.4,977.1 270.5,977.6 271.6,977.6 272.6,977.9 276.9,979.7 278,979.3 280.1,979.7 282.2,980.4 284.4,980.8 288.6,980.6 292.9,981 382.5,981" fill="none" stroke="#000" stroke-width="1.8" stroke-linejoin="round"/>
<polyline points="62.5,981 208.6,981 219.3,980.8 221.4,980.4 223.6,980.6 225.7,980.2 227.8,979.3 230,978.7 232.1,978.8 233.2,978.5 234.2,977.7 235.3,976.4 237.4,975.8 239.6,974.7 240.6,974.8 241.7,975.3 242.8,975 243.8,972.3 244.9,971.2 246,970.7 247,968.6 248.1,968.9 249.2,967.6 250.2,967.5 251.3,966.2 252.4,965.7 253.4,964.1 254.5,963.2 256.6,960.4 257.7,960.2 258.8,961.1 259.8,960.1 260.9,961.3 262,959.9 263,959 264.1,959.2 265.2,960.1 266.2,957.4 267.3,956.4 268.4,957.7 269.4,960.9 270.5,960.3 271.6,962.4 272.6,963.1 273.7,962.3 275.8,965.6 276.9,966.5 279,966.3 280.1,965.7 281.2,966.6 282.2,967.2 283.3,968.3 285.4,969 287.6,972 288.6,972.9 289.7,973.6 290.8,975.1 291.8,974.8 292.9,975.4 294,975.5 296.1,976.8 298.2,977.7 299.3,977.7 300.4,978.4 301.4,978.4 303.6,979.2 304.6,979.1 308.9,980.2 312.1,980 317.4,980.9 320.6,980.7 326,981 382.5,981" fill="none" stroke="#000" stroke-width="1.8" stroke-linejoin="round"/>
<polyline points="62.5,981 231,981 235.3,980.9 240.6,981 244.9,980.8 246,980.4 248.1,980.4 249.2,980.2 250.2,980.3 255.6,978.5 258.8,978.5 260.9,977.1 263,976.4 264.1,976.4 267.3,972.8 270.5,971.5 271.6,969.6 273.7,969 274.8,968.5 276.9,964.9 279,962.2 281.2,960.3 282.2,960.4 283.3,961.3 289.7,957.4 290.8,956.6 291.8,957.9 292.9,958.5 294,958.5 295,957.4 296.1,959 297.2,962.1 299.3,959.3 300.4,960.6 301.4,960.7 302.5,961.1 303.6,962.2 304.6,964.3 305.7,963.8 306.8,965 308.9,964.7 310,966.6 311,969.1 312.1,968.6 313.2,969.3 314.2,971 315.3,971.2 316.4,971.1 317.4,970.2 318.5,971.5 319.6,973.4 320.6,974.7 321.7,975.5 322.8,975.3 323.8,975.7 326,975.3 327,975.5 328.1,976.5 329.2,978 330.2,977.8 331.3,978.1 332.4,977.5 333.4,978.2 334.5,978.5 335.6,979.2 336.6,979.3 337.7,979.7 338.8,979.3 340.9,979.3 343,980.3 345.2,980.8 350.5,980.4 352.6,981 354.8,980.8 363.3,981 382.5,981" fill="none" stroke="#000" stroke-width="1.8" stroke-linejoin="round"/>
<polyline points="62.5,981 269.4,980.9 271.6,980.6 274.8,980.5 279,979.6 280.1,979.9 281.2,979.9 283.3,979.1 284.4,978.9 286.5,977.9 289.7,977.6 291.8,976.7 292.9,975.9 294,976 295,975.5 296.1,974.3 297.2,972.2 298.2,972 299.3,972.4 301.4,970.2 302.5,969.9 303.6,970.1 304.6,969.4 305.7,969.6 306.8,968.1 308.9,967.9 311,965.4 312.1,967.8 313.2,967.6 314.2,967 315.3,965.1 316.4,965 317.4,963.2 318.5,964.4 319.6,963.8 320.6,963.6 321.7,962.7 322.8,961 324.9,964.7 327,962.5 329.2,964.1 331.3,963.1 332.4,962.8 333.4,963.9 335.6,964.9 336.6,966.6 337.7,966.9 338.8,968 339.8,968.4 340.9,967.2 343,970.5 344.1,969.9 345.2,969.9 346.2,969.6 349.4,972.8 350.5,974.7 351.6,973.7 352.6,973.8 353.7,974.1 354.8,975 356.9,974.5 358,975.4 359,976.7 360.1,977.4 361.2,977 363.3,978 365.4,977.8 366.5,977.5 372.9,979.8 375,979.6 377.2,980.2 381.4,980.3 382.5,980.5" fill="none" stroke="#000" stroke-width="1.8" stroke-linejoin="round"/>
</g>
<rect x="62.5" y="731.5" width="320" height="249.5" fill="none" stroke="#000" stroke-width="1.1"/>
<path d="M62.5 981v-3.5M62.5 731.5v3.5M126.5 981v-3.5M126.5 731.5v3.5M190.5 981v-3.5M190.5 731.5v3.5M254.5 981v-3.5M254.5 731.5v3.5M318.5 981v-3.5M318.5 731.5v3.5M382.5 981v-3.5M382.5 731.5v3.5M62.5 981h3.5M382.5 981h-3.5M62.5 918.62h3.5M382.5 918.62h-3.5M62.5 856.25h3.5M382.5 856.25h-3.5M62.5 793.88h3.5M382.5 793.88h-3.5M62.5 731.5h3.5M382.5 731.5h-3.5" stroke="#000" stroke-width="1.1" fill="none"/>
<text class="s" x="55" y="985.3" font-size="14" text-anchor="end">0</text>
<text class="s" x="55" y="922.92" font-size="14" text-anchor="end">0.01</text>
<text class="s" x="55" y="860.55" font-size="14" text-anchor="end">0.02</text>
<text class="s" x="55" y="798.17" font-size="14" text-anchor="end">0.03</text>
<text class="s" x="55" y="735.8" font-size="14" text-anchor="end">0.04</text>
<text class="s" x="62.5" y="998.6" font-size="14" text-anchor="middle">0</text>
<text class="s" x="126.5" y="998.6" font-size="14" text-anchor="middle">0.2</text>
<text class="s" x="190.5" y="998.6" font-size="14" text-anchor="middle">0.4</text>
<text class="s" x="254.5" y="998.6" font-size="14" text-anchor="middle">0.6</text>
<text class="s" x="318.5" y="998.6" font-size="14" text-anchor="middle">0.8</text>
<text class="s" x="382.5" y="998.6" font-size="14" text-anchor="middle">1</text>
<text class="s" x="138.4" y="1020.6" font-size="17.5">Distance from limbus x</text>
<text class="s" font-size="17.5" text-anchor="middle" transform="translate(15.3 852.5) rotate(-90)">N(x,t)</text>
<path d="M95.2 824.1H172.1" stroke="#000" stroke-width="1.2"/>
<path d="M176.1 824.1L165.6 820.1L168.6 824.1L165.6 828.1Z" fill="#000"/>
<text class="s" x="129.4" y="813.7" font-size="15.5" text-anchor="middle">t</text>
<text class="r" x="118.4" y="1052.5" font-size="22" font-weight="bold" textLength="24.5" lengthAdjust="spacingAndGlyphs">(e)</text>
<text class="r" x="147.7" y="1053.8" font-size="20" font-style="italic" textLength="14" lengthAdjust="spacingAndGlyphs">P</text>
<text class="r" x="161.8" y="1057.4" font-size="15.5" font-style="italic" textLength="9.6" lengthAdjust="spacingAndGlyphs">p</text>
<path d="M180.5 1046.6H195.9M180.5 1051H195.9" stroke="#000" stroke-width="1.25"/>
<text class="r" x="202.3" y="1053.8" font-size="20" textLength="21.4" lengthAdjust="spacingAndGlyphs">10</text>
<path d="M226.4 1043.4H238.9" stroke="#000" stroke-width="1.1"/>
<text class="r" x="239.8" y="1047.1" font-size="14">2</text>
<text class="r" x="251.7" y="1053.8" font-size="20">,</text>
<text class="r" x="260.9" y="1053.8" font-size="20" font-style="italic" textLength="10.6" lengthAdjust="spacingAndGlyphs">a</text>
<text class="r" x="272" y="1057.3" font-size="15.5" font-style="italic" textLength="11.2" lengthAdjust="spacingAndGlyphs">n</text>
<path d="M292.7 1046.6H308M292.7 1051H308" stroke="#000" stroke-width="1.25"/>
<text class="r" x="314" y="1053.8" font-size="20">1</text>
<clipPath id="cpf"><rect x="462.5" y="728.5" width="321" height="252.5"/></clipPath><g clip-path="url(#cpf)">
<polyline points="462.5,795.8 463.6,809.4 464.6,833.8 465.7,847.5 467.9,862.2 471.1,877.3 473.2,886 474.3,889.3 478.6,900.7 481.8,910.9 485,923.6 491.4,952 494.6,963.8 496.7,969.7 498.9,974.1 501,977.1 502.1,978.1 504.2,979.6 507.4,980.7 510.6,981 783.5,981" fill="none" stroke="#3a3a3a" stroke-width="1.7" stroke-dasharray="6 3.5 0.7 3.5"/>
<polyline points="462.5,795.8 463.6,809.4 464.6,833.8 465.7,847.5 466.8,855.7 468.9,867.6 472.1,881.4 473.2,885.2 474.3,888.1 475.3,890.3 477.5,894 481.8,899.6 486,904 496.7,913.5 499.9,917.2 502.1,920.2 504.2,923.8 507.4,930.6 510.6,938.6 517.1,955.8 521.4,965.6 523.5,969.6 526.7,974.2 528.8,976.4 532,978.6 534.2,979.6 537.4,980.4 540.6,980.8 544.9,981 783.5,981" fill="none" stroke="#3a3a3a" stroke-width="1.7" stroke-dasharray="6 3.5 0.7 3.5"/>
<polyline points="462.5,795.8 463.6,809.4 464.6,833.8 465.7,847.5 466.8,855.7 468.9,867.6 472.1,881.4 473.2,885.2 475.3,890.3 477.5,894 481.8,899.6 486,904 492.5,909.4 497.8,913.3 502.1,915.9 506.4,918.1 514.9,922 518.1,923.7 521.4,926 524.6,929 527.8,932.9 531,937.5 534.2,942.8 542.8,957.7 548.1,966 551.3,970.1 553.5,972.4 555.6,974.3 558.8,976.6 562,978.2 566.3,979.6 571.6,980.5 578.1,981 783.5,981" fill="none" stroke="#3a3a3a" stroke-width="1.7" stroke-dasharray="6 3.5 0.7 3.5"/>
<polyline points="462.5,795.8 463.6,809.4 464.6,833.8 465.7,847.5 466.8,855.7 468.9,867.6 472.1,881.4 473.2,885.2 474.3,888.1 475.3,890.3 477.5,894 481.8,899.6 487.1,904.9 491.4,908.6 495.7,911.9 498.9,914 502.1,915.9 508.5,919.1 516,921.9 523.5,924 536.3,927.3 539.5,928.3 543.8,930.2 547,932.3 551.3,935.9 556.7,941.7 560.9,947.2 570.6,960.3 575.9,966.8 579.1,970.2 581.3,972.1 583.4,973.8 586.6,975.9 590.9,977.9 596.2,979.4 602.7,980.4 610.2,980.9 632.6,981 783.5,981" fill="none" stroke="#3a3a3a" stroke-width="1.7" stroke-dasharray="6 3.5 0.7 3.5"/>
<polyline points="462.5,795.8 463.6,809.4 464.6,833.8 465.7,847.5 466.8,855.7 468.9,867.6 471.1,876.9 473.2,885.2 474.3,888.1 476.4,892.3 479.6,897 482.8,900.8 487.1,904.9 492.5,909.4 496.7,912.6 501,915.3 506.4,918.1 511.7,920.4 517.1,922.2 524.6,924.3 532,926.1 538.5,927.4 559.9,929.9 564.1,931.1 567.4,932.5 569.5,933.8 572.7,936 578.1,940.7 583.4,946.4 597.3,962.6 601.6,967.1 604.8,970.1 609.1,973.3 613.4,975.8 617.6,977.7 623,979.2 627.3,980 631.6,980.4 644.4,981 783.5,981" fill="none" stroke="#3a3a3a" stroke-width="1.7" stroke-dasharray="6 3.5 0.7 3.5"/>
<polyline points="462.5,795.8 463.6,809.4 464.6,833.8 465.7,847.5 466.8,855.7 468.9,867.6 471.1,876.9 473.2,885.2 474.3,888.1 476.4,892.3 479.6,897 482.8,900.8 487.1,904.9 492.5,909.4 496.7,912.6 501,915.3 507.4,918.6 514.9,921.5 524.6,924.3 535.3,926.8 541.7,927.8 550.2,928.8 585.5,931.4 589.8,932.2 593,933.3 596.2,934.9 599.5,936.8 605.9,941.8 612.3,947.7 627.3,963 631.6,966.9 635.8,970.4 640.1,973.3 644.4,975.6 648.7,977.3 654,978.9 658.3,979.7 663.7,980.3 680.8,980.9 783.5,981" fill="none" stroke="#3a3a3a" stroke-width="1.7" stroke-dasharray="6 3.5 0.7 3.5"/>
<polyline points="462.5,795.8 463.6,809.4 464.6,833.8 465.7,847.5 466.8,855.7 468.9,867.6 471.1,876.9 473.2,885.2 474.3,888.1 476.4,892.3 479.6,897 482.8,900.8 487.1,904.9 492.5,909.4 496.7,912.6 501,915.3 508.5,919.1 517.1,922.2 531,925.9 536.3,927 541.7,927.8 553.5,929 578.1,930.8 582.3,930.9 586.6,930.7 601.6,929.1 607,928.7 611.2,929.1 615.5,930.2 618.7,931.6 623,934 626.2,936.2 630.5,939.5 638,946.3 653,961.1 658.3,965.9 662.6,969.2 666.9,972 672.2,974.8 677.6,977 682.9,978.6 687.2,979.4 692.5,980.1 705.4,980.8 722.5,981 783.5,981" fill="none" stroke="#3a3a3a" stroke-width="1.7" stroke-dasharray="6 3.5 0.7 3.5"/>
<polyline points="462.5,795.8 463.6,809.4 464.6,833.8 465.7,847.5 466.8,855.7 468.9,867.6 471.1,876.9 473.2,885.2 474.3,888.1 476.4,892.3 479.6,897 482.8,900.8 487.1,904.9 492.5,909.4 496.7,912.6 501,915.3 506.4,918.1 511.7,920.4 517.1,922.2 524.6,924.3 532,926.1 538.5,927.4 544.9,928.2 553.5,929 574.9,930.7 584.5,930.9 590.9,930.3 602.7,928.9 623,925.8 628.4,925.6 632.6,926.3 636.9,927.6 641.2,929.6 645.5,932 649.8,934.8 654,937.9 659.4,942.2 678.6,959.5 686.1,965.7 690.4,968.7 694.7,971.3 699,973.5 704.3,975.8 709.7,977.5 715,978.7 721.4,979.7 728.9,980.4 746,980.9 783.5,981" fill="none" stroke="#3a3a3a" stroke-width="1.7" stroke-dasharray="6 3.5 0.7 3.5"/>
<polyline points="462.5,795.8 463.6,809.4 464.6,833.8 465.7,847.5 466.8,855.7 468.9,867.6 471.1,876.9 473.2,885.2 474.3,888.1 476.4,892.3 479.6,897 482.8,900.8 487.1,904.9 492.5,909.4 496.7,912.6 501,915.3 507.4,918.6 514.9,921.5 523.5,924 534.2,926.6 540.6,927.7 548.1,928.6 575.9,930.8 583.4,930.9 592,930.2 604.8,928.6 624.1,925.5 642.3,923 647.6,922.8 650.8,923.1 653,923.5 657.2,924.8 662.6,927.1 667.9,929.9 673.3,933.3 677.6,936.4 682.9,940.6 701.1,956.2 709.7,963 714,966 718.2,968.8 722.5,971.2 726.8,973.2 732.1,975.4 737.5,977 742.8,978.3 749.3,979.3 755.7,980 763.2,980.5 783.5,980.9" fill="none" stroke="#3a3a3a" stroke-width="1.7" stroke-dasharray="6 3.5 0.7 3.5"/>
<polyline points="462.5,795.8 463.6,809.4 464.6,833.8 465.7,847.5 466.8,855.7 468.9,867.6 471.1,876.9 473.2,885.2 474.3,888.1 476.4,892.3 479.6,897 482.8,900.8 487.1,904.9 492.5,909.4 496.7,912.6 501,915.3 507.4,918.6 514.9,921.5 524.6,924.3 535.3,926.8 541.7,927.8 551.3,928.9 572.7,930.6 581.3,930.9 588.8,930.6 602.7,928.9 623,925.7 642.3,922.9 650.8,921.4 666.9,917.8 671.1,917 674.4,916.7 676.5,916.7 680.8,917.4 685.1,918.8 690.4,921.4 695.8,924.6 701.1,928.4 705.4,931.9 710.7,936.7 727.9,953.4 734.3,959.3 741.8,965.4 748.2,969.8 751.4,971.6 755.7,973.8 760,975.5 764.2,976.9 768.5,978 772.8,978.9 778.2,979.6 783.5,980.1" fill="none" stroke="#3a3a3a" stroke-width="1.7" stroke-dasharray="6 3.5 0.7 3.5"/>
<polyline points="462.5,795.8 463.6,809.4 464.6,833.8 465.7,847.5 467.9,862.2 471.1,877.2 473.2,885.8 474.3,889 479.6,902.4 482.8,912.2 486,924.2 492.5,951 495.7,962.3 497.8,968.3 499.9,972.8 502.1,976 503.2,977.2 505.3,979 506.4,979.6 508.5,980.4 512.8,981 783.5,981" fill="none" stroke="#444" stroke-width="1.6" stroke-dasharray="5 3"/>
<polyline points="462.5,795.8 463.6,809.4 464.6,833.8 465.7,847.5 466.8,855.7 468.9,867.6 472.1,881.4 473.2,885.2 474.3,888.1 475.3,890.3 477.5,894 481.8,899.6 486,904 494.6,911.5 497.8,914.5 501,918.3 503.2,921.4 505.3,925.1 508.5,931.9 518.1,956.3 522.4,965.7 524.6,969.5 527.8,974 529.9,976.2 533.1,978.4 536.3,979.8 539.5,980.5 542.8,980.8 548.1,981 783.5,981" fill="none" stroke="#444" stroke-width="1.6" stroke-dasharray="5 3"/>
<polyline points="462.5,795.8 463.6,809.4 464.6,833.8 465.7,847.5 466.8,855.7 468.9,867.6 472.1,881.4 473.2,885.2 475.3,890.3 477.5,894 481.8,899.6 486,904 492.5,909.4 497.8,913.3 502.1,915.9 507.4,918.6 514.9,922 518.1,923.7 521.4,925.9 524.6,928.8 527.8,932.5 532,938.6 543.8,958.5 549.2,966.5 552.4,970.4 554.5,972.6 556.7,974.4 559.9,976.6 564.1,978.7 568.4,979.8 573.8,980.6 581.3,980.9 783.5,981" fill="none" stroke="#444" stroke-width="1.6" stroke-dasharray="5 3"/>
<polyline points="462.5,795.8 463.6,809.4 464.6,833.8 465.7,847.5 466.8,855.7 468.9,867.6 472.1,881.4 473.2,885.2 474.3,888.1 475.3,890.3 477.5,894 481.8,899.6 487.1,904.9 491.4,908.6 495.7,911.9 498.9,914 502.1,915.9 508.5,919.1 516,921.9 523.5,924 535.3,926.9 539.5,928.2 543.8,930.2 547,932.3 551.3,935.9 556.7,941.7 560.9,947.2 570.6,960.3 575.9,966.7 579.1,970 581.3,971.9 583.4,973.6 586.6,975.7 588.8,976.9 592,978.2 597.3,979.7 603.7,980.5 612.3,980.9 783.5,981" fill="none" stroke="#444" stroke-width="1.6" stroke-dasharray="5 3"/>
<polyline points="462.5,795.8 463.6,809.4 464.6,833.8 465.7,847.5 466.8,855.7 468.9,867.6 471.1,876.9 473.2,885.2 474.3,888.1 476.4,892.3 479.6,897 482.8,900.8 487.1,904.9 492.5,909.4 496.7,912.6 501,915.3 506.4,918.1 510.6,920 516,921.9 521.4,923.5 529.9,925.6 537.4,927.1 543.8,928.1 555.6,929.6 559.9,930.3 564.1,931.5 567.4,933 569.5,934.2 572.7,936.5 575.9,939.2 579.1,942.3 584.5,948.2 597.3,963.4 601.6,967.8 604.8,970.6 609.1,973.8 613.4,976.3 617.6,978.1 621.9,979.3 626.2,980 630.5,980.5 642.3,980.9 783.5,981" fill="none" stroke="#444" stroke-width="1.6" stroke-dasharray="5 3"/>
<polyline points="462.5,795.8 463.6,809.4 464.6,833.8 465.7,847.5 466.8,855.7 468.9,867.6 471.1,876.9 473.2,885.2 474.3,888.1 476.4,892.3 479.6,897 482.8,900.8 487.1,904.9 492.5,909.4 496.7,912.6 501,915.3 507.4,918.6 513.9,921.2 521.4,923.5 532,926.1 538.5,927.3 546,928.4 580.2,932.1 584.5,933 588.8,934.4 592,936 595.2,937.9 598.4,940.2 602.7,943.8 608,949 621.9,963.7 626.2,967.6 629.4,970.3 633.7,973.3 638,975.7 642.3,977.5 646.5,978.7 650.8,979.6 656.2,980.3 667.9,980.9 783.5,981" fill="none" stroke="#444" stroke-width="1.6" stroke-dasharray="5 3"/>
<polyline points="462.5,795.8 463.6,809.4 464.6,833.8 465.7,847.5 466.8,855.7 468.9,867.6 471.1,876.9 473.2,885.2 474.3,888.1 476.4,892.3 479.6,897 482.8,900.8 487.1,904.9 492.5,909.4 496.7,912.6 501,915.3 508.5,919.1 516,921.9 525.6,924.6 536.3,926.9 541.7,927.8 549.2,928.8 603.7,934.6 609.1,935.6 613.4,936.9 616.6,938.2 620.9,940.3 625.1,942.8 629.4,945.6 635.8,950.5 653,964.5 657.2,967.7 661.5,970.6 665.8,973 670.1,975 675.4,977 679.7,978.3 685.1,979.3 690.4,980 696.8,980.5 704.3,980.8 722.5,981 783.5,981" fill="none" stroke="#444" stroke-width="1.6" stroke-dasharray="5 3"/>
<polyline points="462.5,795.8 463.6,809.4 464.6,833.8 465.7,847.5 466.8,855.7 468.9,867.6 471.1,876.9 473.2,885.2 474.3,888.1 476.4,892.3 479.6,897 482.8,900.8 487.1,904.9 492.5,909.4 496.7,912.6 501,915.3 508.5,919.1 517.1,922.2 528.8,925.3 539.5,927.5 550.2,928.9 598.4,934 613.4,935.1 628.4,935.9 632.6,936.5 636.9,937.6 641.2,939.2 645.5,941.2 648.7,943 653,945.6 660.5,951.1 677.6,964.6 681.9,967.7 686.1,970.4 691.5,973.3 695.8,975.2 700,976.8 705.4,978.2 709.7,979.1 715,979.9 721.4,980.4 727.9,980.7 743.9,981 783.5,981" fill="none" stroke="#444" stroke-width="1.6" stroke-dasharray="5 3"/>
<polyline points="462.5,795.8 463.6,809.4 464.6,833.8 465.7,847.5 466.8,855.7 468.9,867.6 471.1,876.9 473.2,885.2 474.3,888.1 476.4,892.3 479.6,897 482.8,900.8 487.1,904.9 492.5,909.4 496.7,912.6 501,915.3 505.3,917.6 509.6,919.5 518.1,922.6 531,925.8 537.4,927.1 542.8,928 551.3,929 601.6,934.2 619.8,935.5 648.7,935.8 653,936.2 657.2,937 661.5,938.2 665.8,939.9 670.1,941.9 674.4,944.3 678.6,947 684,950.7 700,963.1 707.5,968.3 711.8,970.9 716.1,973.2 719.3,974.7 723.6,976.3 727.9,977.6 733.2,978.8 738.6,979.7 743.9,980.2 757.8,980.8 783.5,981" fill="none" stroke="#444" stroke-width="1.6" stroke-dasharray="5 3"/>
<polyline points="462.5,795.8 463.6,809.4 464.6,833.8 465.7,847.5 466.8,855.7 468.9,867.6 471.1,876.9 473.2,885.2 474.3,888.1 476.4,892.3 479.6,897 482.8,900.8 487.1,904.9 492.5,909.4 496.7,912.6 501,915.3 505.3,917.6 509.6,919.5 518.1,922.6 532,926.1 538.5,927.3 544.9,928.3 601.6,934.2 619.8,935.5 646.5,935.8 653,936 674.4,937.8 679.7,938.5 684,939.3 688.3,940.5 692.5,942.1 696.8,944 702.2,946.9 710.7,952.4 725.7,963.2 732.1,967.5 738.6,971.3 745,974.3 752.5,977 756.8,978.1 761,979 770.7,980.2 783.5,980.8" fill="none" stroke="#444" stroke-width="1.6" stroke-dasharray="5 3"/>
<polyline points="462.5,795.4 463.6,808.8 464.6,833.8 465.7,847.4 467.9,862.5 471.1,877.6 473.2,886.1 478.6,900.8 481.8,910.9 483.9,919.2 491.4,952 494.6,963.7 496.7,969.7 498.9,974.1 501,977.1 502.1,978.1 504.2,979.6 507.4,980.7 510.6,981 783.5,981" fill="none" stroke="#000" stroke-width="1.8" stroke-linejoin="round"/>
<polyline points="462.5,795.9 463.6,809.6 464.6,834.1 465.7,847.7 467.9,862.3 471.1,877.2 473.2,885.2 474.3,888 476.4,892.5 478.6,895.9 483.9,902 488.2,906 494.6,911.3 499.9,917.3 502.1,920.5 504.2,924.3 507.4,931.5 510.6,939.7 516,954.5 520.3,964.9 523.5,970.8 525.6,973.9 527.8,976.2 531,978.6 533.1,979.5 536.3,980.4 539.5,980.8 543.8,981 783.5,981" fill="none" stroke="#000" stroke-width="1.8" stroke-linejoin="round"/>
<polyline points="462.5,796 463.6,809.3 464.6,833.7 465.7,847.7 466.8,856.1 467.9,862.4 472.1,881.6 473.2,885.5 474.3,888.4 475.3,890.5 476.4,892.5 479.6,897 482.8,900.9 488.2,905.9 490.3,907.6 492.5,909.5 494.6,910.7 496.7,912.6 502.1,916.3 504.2,917 510.6,920.2 514.9,921.8 519.2,924.5 522.4,926.8 527.8,933.4 529.9,936.5 533.1,941.8 541.7,957.4 547,966 549.2,968.9 552.4,972.5 554.5,974.5 557.7,976.8 562,978.8 566.3,980 571.6,980.6 578.1,980.9 783.5,981" fill="none" stroke="#000" stroke-width="1.8" stroke-linejoin="round"/>
<polyline points="462.5,794.4 463.6,808.5 464.6,833.6 465.7,847.3 466.8,855.5 467.9,862.3 468.9,867.6 472.1,881.3 473.2,885.1 474.3,887.9 475.3,890.4 477.5,894.3 482.8,901.1 486,903.6 487.1,904.8 490.3,907.9 496.7,912.7 504.2,917.2 509.6,919.7 513.9,921.1 516,922 520.3,923.2 522.4,923.5 529.9,925.8 535.3,926.8 542.8,929.8 546,931.7 551.3,936.5 556.7,942.7 566.3,956.5 571.6,963.8 574.9,967.6 577,969.9 580.2,972.8 584.5,975.9 587.7,977.5 589.8,978.4 595.2,979.8 600.5,980.5 609.1,980.9 783.5,981" fill="none" stroke="#000" stroke-width="1.8" stroke-linejoin="round"/>
<polyline points="462.5,795.4 463.6,809.3 464.6,834.1 465.7,848 466.8,856.3 467.9,862.5 472.1,881.7 473.2,885.4 474.3,888.2 476.4,892.3 480.7,898.2 485,902.9 488.2,906 492.5,909.1 495.7,912 504.2,917.1 506.4,918.3 512.8,920.9 516,921.7 519.2,923 522.4,923.6 524.6,924.4 526.7,924.6 534.2,926.7 536.3,927.1 550.2,929 551.3,928.9 554.5,929.3 558.8,930.1 564.1,931.7 567.4,933.3 569.5,934.6 572.7,937 574.9,938.8 577,940.9 580.2,944.5 585.5,950.9 594.1,961.8 599.5,967.6 601.6,969.7 605.9,973.2 610.2,975.9 614.4,977.9 619.8,979.4 624.1,980.1 628.4,980.6 639,980.9 783.5,981" fill="none" stroke="#000" stroke-width="1.8" stroke-linejoin="round"/>
<polyline points="462.5,796 463.6,809.5 464.6,834.5 465.7,847.8 467.9,862 468.9,867.4 473.2,885.4 474.3,888.4 476.4,892.1 479.6,896.9 482.8,900.9 485,903.3 488.2,905.7 490.3,907.9 492.5,909.6 495.7,911.7 496.7,912.9 497.8,913.5 508.5,919.3 516,921.8 520.3,923.4 524.6,924.1 532,926.1 534.2,926.4 538.5,927.4 542.8,927.9 544.9,928.4 548.1,928.6 550.2,929 553.5,929.1 554.5,929.4 559.9,930 562,930 565.2,930.6 568.4,930.7 571.6,931.2 575.9,931.5 583.4,932.8 586.6,933.7 588.8,934.6 590.9,935.7 595.2,938.5 597.3,940 600.5,942.6 605.9,947.8 620.9,964.4 624.1,967.5 627.3,970.2 631.6,973.4 635.8,975.8 640.1,977.7 644.4,978.9 648.7,979.7 654,980.4 666.9,980.9 783.5,981" fill="none" stroke="#000" stroke-width="1.8" stroke-linejoin="round"/>
<polyline points="462.5,795.6 463.6,808.7 464.6,833.1 465.7,847 467.9,862.2 471.1,877 473.2,885.2 474.3,888 476.4,892.5 480.7,898.7 482.8,900.6 486,904.3 488.2,905.9 492.5,909.8 496.7,912.4 501,915.3 510.6,920.3 511.7,920.6 518.1,922.5 523.5,923.8 526.7,924.9 533.1,926.2 536.3,927.2 543.8,928 546,928.5 552.4,929 569.5,931.2 575.9,931.4 580.2,932.1 583.4,932.3 587.7,933 595.2,933.8 598.4,933.9 603.7,934.4 608,935.3 610.2,936.1 612.3,936.6 617.6,938.9 620.9,940.6 627.3,944.7 633.7,949.6 650.8,964.3 655.1,967.6 659.4,970.5 663.7,973.1 667.9,975.2 672.2,976.9 677.6,978.4 682.9,979.5 688.3,980.1 701.1,980.8 719.3,981 783.5,981" fill="none" stroke="#000" stroke-width="1.8" stroke-linejoin="round"/>
<polyline points="462.5,796 463.6,809.5 464.6,834.2 465.7,847.6 467.9,862.1 471.1,877 473.2,885.1 475.3,890.6 476.4,892.6 478.6,895.2 481.8,899.4 485,903 487.1,905.1 495.7,911.9 497.8,913.1 502.1,915.9 504.2,916.7 506.4,918.2 508.5,919.4 510.6,920.3 513.9,920.8 514.9,921.5 518.1,922.5 520.3,923.5 522.4,923.7 525.6,924.7 529.9,925.6 532,926.4 534.2,926.5 542.8,928.2 548.1,928.6 550.2,929 552.4,929.1 554.5,929.5 571.6,930.9 578.1,931.8 582.3,932 586.6,932.8 592,933.1 596.2,933.9 598.4,934.2 610.2,934.8 614.4,935.4 617.6,935.3 624.1,935.5 630.5,936.2 633.7,936.9 638,938.2 644.4,941 653,946.3 661.5,952.9 676.5,965.2 680.8,968.3 685.1,971 689.3,973.4 693.6,975.4 697.9,976.9 703.2,978.4 708.6,979.4 712.9,980 724.7,980.7 740.7,981 783.5,981" fill="none" stroke="#000" stroke-width="1.8" stroke-linejoin="round"/>
<polyline points="462.5,795.5 463.6,809.1 464.6,833.8 465.7,847.4 466.8,855.6 467.9,862.1 470,872.1 473.2,885 474.3,888 476.4,892.6 478.6,895.6 481.8,899.5 485,902.9 492.5,909.6 496.7,912.3 501,915.5 509.6,919.7 512.8,920.9 518.1,922.5 523.5,923.8 528.8,925.4 542.8,928.1 546,928.4 553.5,929.4 558.8,929.7 570.6,931.2 573.8,931.2 578.1,932 580.2,931.9 583.4,932.5 589.8,932.9 596.2,933.9 605.9,934.7 608,934.7 610.2,935 612.3,934.9 614.4,935.2 616.6,935.2 621.9,935.6 628.4,935.5 633.7,935.8 641.2,935.5 645.5,935.9 646.5,935.7 648.7,935.7 651.9,936.3 656.2,936.6 660.5,937.9 665.8,940.1 673.3,944 679.7,948.4 690.4,956.7 700,964.5 705.4,968.2 709.7,970.9 714,973.3 718.2,975.3 721.4,976.5 725.7,977.8 731.1,979 736.4,979.8 742.8,980.4 756.8,980.9 783.5,981" fill="none" stroke="#000" stroke-width="1.8" stroke-linejoin="round"/>
<polyline points="462.5,796.7 463.6,810.3 464.6,834.3 465.7,847.8 466.8,856.3 467.9,862.3 472.1,881.5 473.2,885.3 475.3,890.5 477.5,894.2 480.7,898.4 482.8,900.8 488.2,906.1 489.2,906.7 495.7,912.1 501,915.4 504.2,917 506.4,918.3 510.6,920.3 518.1,922.5 520.3,923.3 523.5,924 528.8,925.4 532,926 536.3,927.1 546,928.3 549.2,928.6 552.4,929.3 557.7,929.6 559.9,930.1 562,930 563.1,930.3 573.8,931.2 580.2,932.2 585.5,932.5 589.8,933.3 596.2,933.6 600.5,934.2 604.8,934.3 615.5,935.4 617.6,935.2 621.9,935.6 629.4,935.7 633.7,935.4 635.8,935.7 638,935.7 642.3,935.8 645.5,935.5 654,935.9 660.5,936.7 665.8,936.9 667.9,937.4 670.1,937.4 675.4,937.8 681.9,938.9 687.2,940.2 690.4,941.3 693.6,942.8 695.8,943.6 700,946 709.7,952.3 725.7,964.5 730,967.4 736.4,971.3 740.7,973.5 743.9,974.9 751.4,977.5 760,979.3 765.3,980 770.7,980.4 783.5,980.9" fill="none" stroke="#000" stroke-width="1.8" stroke-linejoin="round"/>
</g>
<rect x="462.5" y="728.5" width="321" height="252.5" fill="none" stroke="#000" stroke-width="1.1"/>
<path d="M462.5 981v-3.5M462.5 728.5v3.5M526.7 981v-3.5M526.7 728.5v3.5M590.9 981v-3.5M590.9 728.5v3.5M655.1 981v-3.5M655.1 728.5v3.5M719.3 981v-3.5M719.3 728.5v3.5M783.5 981v-3.5M783.5 728.5v3.5M462.5 981h3.5M783.5 981h-3.5M462.5 938.92h3.5M783.5 938.92h-3.5M462.5 896.83h3.5M783.5 896.83h-3.5M462.5 854.75h3.5M783.5 854.75h-3.5M462.5 812.67h3.5M783.5 812.67h-3.5M462.5 770.58h3.5M783.5 770.58h-3.5M462.5 728.5h3.5M783.5 728.5h-3.5" stroke="#000" stroke-width="1.1" fill="none"/>
<text class="s" x="457" y="985.3" font-size="14" text-anchor="end">0</text>
<text class="s" x="457" y="943.22" font-size="14" text-anchor="end">0.2</text>
<text class="s" x="457" y="901.13" font-size="14" text-anchor="end">0.4</text>
<text class="s" x="457" y="859.05" font-size="14" text-anchor="end">0.6</text>
<text class="s" x="457" y="816.97" font-size="14" text-anchor="end">0.8</text>
<text class="s" x="457" y="774.88" font-size="14" text-anchor="end">1</text>
<text class="s" x="457" y="732.8" font-size="14" text-anchor="end">1.2</text>
<text class="s" x="462.5" y="998.6" font-size="14" text-anchor="middle">0</text>
<text class="s" x="526.7" y="998.6" font-size="14" text-anchor="middle">0.2</text>
<text class="s" x="590.9" y="998.6" font-size="14" text-anchor="middle">0.4</text>
<text class="s" x="655.1" y="998.6" font-size="14" text-anchor="middle">0.6</text>
<text class="s" x="719.3" y="998.6" font-size="14" text-anchor="middle">0.8</text>
<text class="s" x="783.5" y="998.6" font-size="14" text-anchor="middle">1</text>
<text class="s" x="539.1" y="1020.6" font-size="17.5">Distance from limbus x</text>
<text class="s" font-size="17.5" text-anchor="middle" transform="translate(420 851.2) rotate(-90)">E(x,t)</text>
<path d="M495.2 817.3H571.4" stroke="#000" stroke-width="1.2"/>
<path d="M575.4 817.3L564.9 813.3L567.9 817.3L564.9 821.3Z" fill="#000"/>
<text class="s" x="530.3" y="810.9" font-size="15.5" text-anchor="middle">t</text>
<text class="r" x="519.2" y="1052.5" font-size="22" font-weight="bold" textLength="24.5" lengthAdjust="spacingAndGlyphs">(f)</text>
<text class="r" x="550.2" y="1053.8" font-size="20" font-style="italic" textLength="14" lengthAdjust="spacingAndGlyphs">P</text>
<text class="r" x="564.3" y="1057.4" font-size="15.5" font-style="italic" textLength="9.6" lengthAdjust="spacingAndGlyphs">p</text>
<path d="M583 1046.6H598.4M583 1051H598.4" stroke="#000" stroke-width="1.25"/>
<text class="r" x="604.8" y="1053.8" font-size="20" textLength="21.4" lengthAdjust="spacingAndGlyphs">10</text>
<path d="M628.9 1043.4H641.4" stroke="#000" stroke-width="1.1"/>
<text class="r" x="642.3" y="1047.1" font-size="14">2</text>
<text class="r" x="654.2" y="1053.8" font-size="20">,</text>
<text class="r" x="663.4" y="1053.8" font-size="20" font-style="italic" textLength="10.6" lengthAdjust="spacingAndGlyphs">a</text>
<text class="r" x="674.5" y="1057.3" font-size="15.5" font-style="italic" textLength="11.2" lengthAdjust="spacingAndGlyphs">n</text>
<path d="M695.2 1046.6H710.5M695.2 1051H710.5" stroke="#000" stroke-width="1.25"/>
<text class="r" x="716.5" y="1053.8" font-size="20">1</text>
</svg></body></html>
